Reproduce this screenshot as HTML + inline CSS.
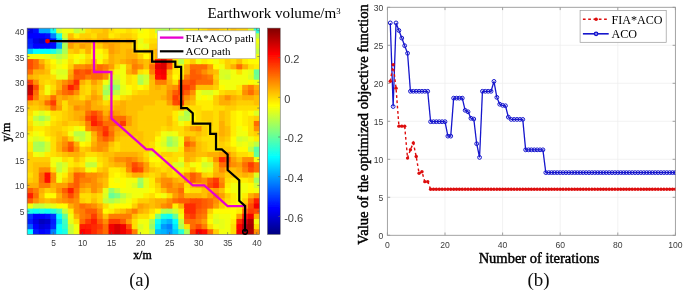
<!DOCTYPE html>
<html><head><meta charset="utf-8"><title>figure</title>
<style>html,body{margin:0;padding:0;background:#fff;}svg{display:block;}</style>
</head><body>
<svg width="685" height="292" viewBox="0 0 685 292">
<rect width="685" height="292" fill="#fff"/>
<defs>
<clipPath id="hc"><rect x="27.15" y="28.15" width="232.45" height="206.25"/></clipPath>
<clipPath id="rc"><rect x="387.40" y="7.30" width="288.00" height="228.00"/></clipPath>
<filter id="bl" x="0" y="0" width="1" height="1"><feGaussianBlur stdDeviation="0.45"/></filter>
<filter id="gb" x="0" y="0" width="685" height="292" filterUnits="userSpaceOnUse"><feGaussianBlur stdDeviation="0.5"/></filter>
</defs>
<g filter="url(#gb)">
<g clip-path="url(#hc)" filter="url(#bl)"><rect x="25.65" y="26.65" width="8.31" height="7.66" fill="#0000e6"/><rect x="32.96" y="26.65" width="6.81" height="7.66" fill="#000dff"/><rect x="38.77" y="26.65" width="6.81" height="7.66" fill="#00a6ff"/><rect x="44.58" y="26.65" width="6.81" height="7.66" fill="#00a6ff"/><rect x="50.39" y="26.65" width="6.81" height="7.66" fill="#0dfff2"/><rect x="56.21" y="26.65" width="6.81" height="7.66" fill="#d0ff2f"/><rect x="62.02" y="26.65" width="6.81" height="7.66" fill="#f2ff0d"/><rect x="67.83" y="26.65" width="6.81" height="7.66" fill="#f2ff0d"/><rect x="73.64" y="26.65" width="6.81" height="7.66" fill="#c4ff3b"/><rect x="79.45" y="26.65" width="6.81" height="7.66" fill="#dbff24"/><rect x="85.26" y="26.65" width="6.81" height="7.66" fill="#ffde00"/><rect x="91.07" y="26.65" width="6.81" height="7.66" fill="#ffcf00"/><rect x="96.88" y="26.65" width="6.81" height="7.66" fill="#ffcf00"/><rect x="102.70" y="26.65" width="6.81" height="7.66" fill="#ffbf00"/><rect x="108.51" y="26.65" width="6.81" height="7.66" fill="#ffde00"/><rect x="114.32" y="26.65" width="6.81" height="7.66" fill="#ffed00"/><rect x="120.13" y="26.65" width="6.81" height="7.66" fill="#ffed00"/><rect x="125.94" y="26.65" width="6.81" height="7.66" fill="#ffde00"/><rect x="131.75" y="26.65" width="6.81" height="7.66" fill="#ffed00"/><rect x="137.56" y="26.65" width="6.81" height="7.66" fill="#f2ff0d"/><rect x="143.38" y="26.65" width="6.81" height="7.66" fill="#fffc00"/><rect x="149.19" y="26.65" width="6.81" height="7.66" fill="#ffed00"/><rect x="155.00" y="26.65" width="6.81" height="7.66" fill="#c4ff3b"/><rect x="160.81" y="26.65" width="6.81" height="7.66" fill="#adff52"/><rect x="166.62" y="26.65" width="6.81" height="7.66" fill="#b9ff46"/><rect x="172.43" y="26.65" width="6.81" height="7.66" fill="#dbff24"/><rect x="178.24" y="26.65" width="6.81" height="7.66" fill="#b9ff46"/><rect x="184.05" y="26.65" width="6.81" height="7.66" fill="#fffc00"/><rect x="189.87" y="26.65" width="6.81" height="7.66" fill="#ffed00"/><rect x="195.68" y="26.65" width="6.81" height="7.66" fill="#ffed00"/><rect x="201.49" y="26.65" width="6.81" height="7.66" fill="#ffde00"/><rect x="207.30" y="26.65" width="6.81" height="7.66" fill="#ffbf00"/><rect x="213.11" y="26.65" width="6.81" height="7.66" fill="#ffbf00"/><rect x="218.92" y="26.65" width="6.81" height="7.66" fill="#ffcf00"/><rect x="224.73" y="26.65" width="6.81" height="7.66" fill="#ffde00"/><rect x="230.54" y="26.65" width="6.81" height="7.66" fill="#ffbf00"/><rect x="236.36" y="26.65" width="6.81" height="7.66" fill="#ffcf00"/><rect x="242.17" y="26.65" width="6.81" height="7.66" fill="#ffcf00"/><rect x="247.98" y="26.65" width="6.81" height="7.66" fill="#dbff24"/><rect x="253.79" y="26.65" width="6.81" height="7.66" fill="#26ffd9"/><rect x="25.65" y="33.31" width="8.31" height="6.16" fill="#0000ff"/><rect x="32.96" y="33.31" width="6.81" height="6.16" fill="#0000ff"/><rect x="38.77" y="33.31" width="6.81" height="6.16" fill="#0000ff"/><rect x="44.58" y="33.31" width="6.81" height="6.16" fill="#000dff"/><rect x="50.39" y="33.31" width="6.81" height="6.16" fill="#0080ff"/><rect x="56.21" y="33.31" width="6.81" height="6.16" fill="#1affe5"/><rect x="62.02" y="33.31" width="6.81" height="6.16" fill="#dbff24"/><rect x="67.83" y="33.31" width="6.81" height="6.16" fill="#ffbf00"/><rect x="73.64" y="33.31" width="6.81" height="6.16" fill="#ffed00"/><rect x="79.45" y="33.31" width="6.81" height="6.16" fill="#ffcf00"/><rect x="85.26" y="33.31" width="6.81" height="6.16" fill="#ffcf00"/><rect x="91.07" y="33.31" width="6.81" height="6.16" fill="#ffde00"/><rect x="96.88" y="33.31" width="6.81" height="6.16" fill="#ffbf00"/><rect x="102.70" y="33.31" width="6.81" height="6.16" fill="#ffbf00"/><rect x="108.51" y="33.31" width="6.81" height="6.16" fill="#ffed00"/><rect x="114.32" y="33.31" width="6.81" height="6.16" fill="#ffde00"/><rect x="120.13" y="33.31" width="6.81" height="6.16" fill="#ffcf00"/><rect x="125.94" y="33.31" width="6.81" height="6.16" fill="#ffcf00"/><rect x="131.75" y="33.31" width="6.81" height="6.16" fill="#ffde00"/><rect x="137.56" y="33.31" width="6.81" height="6.16" fill="#fffc00"/><rect x="143.38" y="33.31" width="6.81" height="6.16" fill="#fffc00"/><rect x="149.19" y="33.31" width="6.81" height="6.16" fill="#ffed00"/><rect x="155.00" y="33.31" width="6.81" height="6.16" fill="#fffc00"/><rect x="160.81" y="33.31" width="6.81" height="6.16" fill="#ffed00"/><rect x="166.62" y="33.31" width="6.81" height="6.16" fill="#ffed00"/><rect x="172.43" y="33.31" width="6.81" height="6.16" fill="#ffed00"/><rect x="178.24" y="33.31" width="6.81" height="6.16" fill="#ffed00"/><rect x="184.05" y="33.31" width="6.81" height="6.16" fill="#ffde00"/><rect x="189.87" y="33.31" width="6.81" height="6.16" fill="#ffde00"/><rect x="195.68" y="33.31" width="6.81" height="6.16" fill="#ffde00"/><rect x="201.49" y="33.31" width="6.81" height="6.16" fill="#ffde00"/><rect x="207.30" y="33.31" width="6.81" height="6.16" fill="#ffde00"/><rect x="213.11" y="33.31" width="6.81" height="6.16" fill="#ffde00"/><rect x="218.92" y="33.31" width="6.81" height="6.16" fill="#ffde00"/><rect x="224.73" y="33.31" width="6.81" height="6.16" fill="#ffde00"/><rect x="230.54" y="33.31" width="6.81" height="6.16" fill="#ffde00"/><rect x="236.36" y="33.31" width="6.81" height="6.16" fill="#ffde00"/><rect x="242.17" y="33.31" width="6.81" height="6.16" fill="#ffde00"/><rect x="247.98" y="33.31" width="6.81" height="6.16" fill="#ffde00"/><rect x="253.79" y="33.31" width="6.81" height="6.16" fill="#b9ff46"/><rect x="25.65" y="38.46" width="8.31" height="6.16" fill="#001aff"/><rect x="32.96" y="38.46" width="6.81" height="6.16" fill="#0000e6"/><rect x="38.77" y="38.46" width="6.81" height="6.16" fill="#0000cc"/><rect x="44.58" y="38.46" width="6.81" height="6.16" fill="#0000f2"/><rect x="50.39" y="38.46" width="6.81" height="6.16" fill="#000dff"/><rect x="56.21" y="38.46" width="6.81" height="6.16" fill="#00ccff"/><rect x="62.02" y="38.46" width="6.81" height="6.16" fill="#a2ff5d"/><rect x="67.83" y="38.46" width="6.81" height="6.16" fill="#ff9e00"/><rect x="73.64" y="38.46" width="6.81" height="6.16" fill="#ffaf00"/><rect x="79.45" y="38.46" width="6.81" height="6.16" fill="#ffbf00"/><rect x="85.26" y="38.46" width="6.81" height="6.16" fill="#ffaf00"/><rect x="91.07" y="38.46" width="6.81" height="6.16" fill="#ffbf00"/><rect x="96.88" y="38.46" width="6.81" height="6.16" fill="#ffaf00"/><rect x="102.70" y="38.46" width="6.81" height="6.16" fill="#ff9e00"/><rect x="108.51" y="38.46" width="6.81" height="6.16" fill="#ffaf00"/><rect x="114.32" y="38.46" width="6.81" height="6.16" fill="#ffaf00"/><rect x="120.13" y="38.46" width="6.81" height="6.16" fill="#ffbf00"/><rect x="125.94" y="38.46" width="6.81" height="6.16" fill="#ffaf00"/><rect x="131.75" y="38.46" width="6.81" height="6.16" fill="#ffcf00"/><rect x="137.56" y="38.46" width="6.81" height="6.16" fill="#e7ff18"/><rect x="143.38" y="38.46" width="6.81" height="6.16" fill="#ffed00"/><rect x="149.19" y="38.46" width="6.81" height="6.16" fill="#ffde00"/><rect x="155.00" y="38.46" width="6.81" height="6.16" fill="#ffde00"/><rect x="160.81" y="38.46" width="6.81" height="6.16" fill="#ffde00"/><rect x="166.62" y="38.46" width="6.81" height="6.16" fill="#ffde00"/><rect x="172.43" y="38.46" width="6.81" height="6.16" fill="#ffde00"/><rect x="178.24" y="38.46" width="6.81" height="6.16" fill="#ffde00"/><rect x="184.05" y="38.46" width="6.81" height="6.16" fill="#ffde00"/><rect x="189.87" y="38.46" width="6.81" height="6.16" fill="#ffde00"/><rect x="195.68" y="38.46" width="6.81" height="6.16" fill="#ffde00"/><rect x="201.49" y="38.46" width="6.81" height="6.16" fill="#ffde00"/><rect x="207.30" y="38.46" width="6.81" height="6.16" fill="#ffde00"/><rect x="213.11" y="38.46" width="6.81" height="6.16" fill="#ffde00"/><rect x="218.92" y="38.46" width="6.81" height="6.16" fill="#ffde00"/><rect x="224.73" y="38.46" width="6.81" height="6.16" fill="#ffde00"/><rect x="230.54" y="38.46" width="6.81" height="6.16" fill="#ffde00"/><rect x="236.36" y="38.46" width="6.81" height="6.16" fill="#ffde00"/><rect x="242.17" y="38.46" width="6.81" height="6.16" fill="#ffde00"/><rect x="247.98" y="38.46" width="6.81" height="6.16" fill="#ffde00"/><rect x="253.79" y="38.46" width="6.81" height="6.16" fill="#f2ff0d"/><rect x="25.65" y="43.62" width="8.31" height="6.16" fill="#0026ff"/><rect x="32.96" y="43.62" width="6.81" height="6.16" fill="#0000ff"/><rect x="38.77" y="43.62" width="6.81" height="6.16" fill="#0000ff"/><rect x="44.58" y="43.62" width="6.81" height="6.16" fill="#0000ff"/><rect x="50.39" y="43.62" width="6.81" height="6.16" fill="#000dff"/><rect x="56.21" y="43.62" width="6.81" height="6.16" fill="#00a6ff"/><rect x="62.02" y="43.62" width="6.81" height="6.16" fill="#adff52"/><rect x="67.83" y="43.62" width="6.81" height="6.16" fill="#ff9e00"/><rect x="73.64" y="43.62" width="6.81" height="6.16" fill="#ffbf00"/><rect x="79.45" y="43.62" width="6.81" height="6.16" fill="#ff9e00"/><rect x="85.26" y="43.62" width="6.81" height="6.16" fill="#ffaf00"/><rect x="91.07" y="43.62" width="6.81" height="6.16" fill="#ffde00"/><rect x="96.88" y="43.62" width="6.81" height="6.16" fill="#ffcf00"/><rect x="102.70" y="43.62" width="6.81" height="6.16" fill="#ffaf00"/><rect x="108.51" y="43.62" width="6.81" height="6.16" fill="#ff9e00"/><rect x="114.32" y="43.62" width="6.81" height="6.16" fill="#ffaf00"/><rect x="120.13" y="43.62" width="6.81" height="6.16" fill="#ffbf00"/><rect x="125.94" y="43.62" width="6.81" height="6.16" fill="#ffbf00"/><rect x="131.75" y="43.62" width="6.81" height="6.16" fill="#ffde00"/><rect x="137.56" y="43.62" width="6.81" height="6.16" fill="#f2ff0d"/><rect x="143.38" y="43.62" width="6.81" height="6.16" fill="#e7ff18"/><rect x="149.19" y="43.62" width="6.81" height="6.16" fill="#ffcf00"/><rect x="155.00" y="43.62" width="6.81" height="6.16" fill="#ffcf00"/><rect x="160.81" y="43.62" width="6.81" height="6.16" fill="#ffcf00"/><rect x="166.62" y="43.62" width="6.81" height="6.16" fill="#ffcf00"/><rect x="172.43" y="43.62" width="6.81" height="6.16" fill="#ffcf00"/><rect x="178.24" y="43.62" width="6.81" height="6.16" fill="#ffcf00"/><rect x="184.05" y="43.62" width="6.81" height="6.16" fill="#ffde00"/><rect x="189.87" y="43.62" width="6.81" height="6.16" fill="#ffde00"/><rect x="195.68" y="43.62" width="6.81" height="6.16" fill="#ffde00"/><rect x="201.49" y="43.62" width="6.81" height="6.16" fill="#ffde00"/><rect x="207.30" y="43.62" width="6.81" height="6.16" fill="#ffde00"/><rect x="213.11" y="43.62" width="6.81" height="6.16" fill="#ffde00"/><rect x="218.92" y="43.62" width="6.81" height="6.16" fill="#ffde00"/><rect x="224.73" y="43.62" width="6.81" height="6.16" fill="#ffde00"/><rect x="230.54" y="43.62" width="6.81" height="6.16" fill="#ffde00"/><rect x="236.36" y="43.62" width="6.81" height="6.16" fill="#ffde00"/><rect x="242.17" y="43.62" width="6.81" height="6.16" fill="#ffde00"/><rect x="247.98" y="43.62" width="6.81" height="6.16" fill="#ffde00"/><rect x="253.79" y="43.62" width="6.81" height="6.16" fill="#dbff24"/><rect x="25.65" y="48.77" width="8.31" height="6.16" fill="#00ccff"/><rect x="32.96" y="48.77" width="6.81" height="6.16" fill="#00ffff"/><rect x="38.77" y="48.77" width="6.81" height="6.16" fill="#00ffff"/><rect x="44.58" y="48.77" width="6.81" height="6.16" fill="#00ffff"/><rect x="50.39" y="48.77" width="6.81" height="6.16" fill="#1affe5"/><rect x="56.21" y="48.77" width="6.81" height="6.16" fill="#59ffa6"/><rect x="62.02" y="48.77" width="6.81" height="6.16" fill="#adff52"/><rect x="67.83" y="48.77" width="6.81" height="6.16" fill="#ffcf00"/><rect x="73.64" y="48.77" width="6.81" height="6.16" fill="#ffbf00"/><rect x="79.45" y="48.77" width="6.81" height="6.16" fill="#ffde00"/><rect x="85.26" y="48.77" width="6.81" height="6.16" fill="#ffaf00"/><rect x="91.07" y="48.77" width="6.81" height="6.16" fill="#fffc00"/><rect x="96.88" y="48.77" width="6.81" height="6.16" fill="#fffc00"/><rect x="102.70" y="48.77" width="6.81" height="6.16" fill="#ffde00"/><rect x="108.51" y="48.77" width="6.81" height="6.16" fill="#ff9e00"/><rect x="114.32" y="48.77" width="6.81" height="6.16" fill="#ffaf00"/><rect x="120.13" y="48.77" width="6.81" height="6.16" fill="#ffbf00"/><rect x="125.94" y="48.77" width="6.81" height="6.16" fill="#ffaf00"/><rect x="131.75" y="48.77" width="6.81" height="6.16" fill="#ffbf00"/><rect x="137.56" y="48.77" width="6.81" height="6.16" fill="#ffed00"/><rect x="143.38" y="48.77" width="6.81" height="6.16" fill="#ffde00"/><rect x="149.19" y="48.77" width="6.81" height="6.16" fill="#ffbf00"/><rect x="155.00" y="48.77" width="6.81" height="6.16" fill="#ffaf00"/><rect x="160.81" y="48.77" width="6.81" height="6.16" fill="#ffbf00"/><rect x="166.62" y="48.77" width="6.81" height="6.16" fill="#ffbf00"/><rect x="172.43" y="48.77" width="6.81" height="6.16" fill="#ffbf00"/><rect x="178.24" y="48.77" width="6.81" height="6.16" fill="#ffbf00"/><rect x="184.05" y="48.77" width="6.81" height="6.16" fill="#ffde00"/><rect x="189.87" y="48.77" width="6.81" height="6.16" fill="#ffde00"/><rect x="195.68" y="48.77" width="6.81" height="6.16" fill="#ffde00"/><rect x="201.49" y="48.77" width="6.81" height="6.16" fill="#ffde00"/><rect x="207.30" y="48.77" width="6.81" height="6.16" fill="#ffde00"/><rect x="213.11" y="48.77" width="6.81" height="6.16" fill="#ffde00"/><rect x="218.92" y="48.77" width="6.81" height="6.16" fill="#ffde00"/><rect x="224.73" y="48.77" width="6.81" height="6.16" fill="#ffde00"/><rect x="230.54" y="48.77" width="6.81" height="6.16" fill="#ffde00"/><rect x="236.36" y="48.77" width="6.81" height="6.16" fill="#ffde00"/><rect x="242.17" y="48.77" width="6.81" height="6.16" fill="#ffde00"/><rect x="247.98" y="48.77" width="6.81" height="6.16" fill="#ffde00"/><rect x="253.79" y="48.77" width="6.81" height="6.16" fill="#c4ff3b"/><rect x="25.65" y="53.93" width="8.31" height="6.16" fill="#f2ff0d"/><rect x="32.96" y="53.93" width="6.81" height="6.16" fill="#f2ff0d"/><rect x="38.77" y="53.93" width="6.81" height="6.16" fill="#f2ff0d"/><rect x="44.58" y="53.93" width="6.81" height="6.16" fill="#e7ff18"/><rect x="50.39" y="53.93" width="6.81" height="6.16" fill="#d0ff2f"/><rect x="56.21" y="53.93" width="6.81" height="6.16" fill="#b9ff46"/><rect x="62.02" y="53.93" width="6.81" height="6.16" fill="#d0ff2f"/><rect x="67.83" y="53.93" width="6.81" height="6.16" fill="#ffed00"/><rect x="73.64" y="53.93" width="6.81" height="6.16" fill="#fffc00"/><rect x="79.45" y="53.93" width="6.81" height="6.16" fill="#f2ff0d"/><rect x="85.26" y="53.93" width="6.81" height="6.16" fill="#ffde00"/><rect x="91.07" y="53.93" width="6.81" height="6.16" fill="#fffc00"/><rect x="96.88" y="53.93" width="6.81" height="6.16" fill="#f2ff0d"/><rect x="102.70" y="53.93" width="6.81" height="6.16" fill="#ffed00"/><rect x="108.51" y="53.93" width="6.81" height="6.16" fill="#ffaf00"/><rect x="114.32" y="53.93" width="6.81" height="6.16" fill="#ffbf00"/><rect x="120.13" y="53.93" width="6.81" height="6.16" fill="#ffbf00"/><rect x="125.94" y="53.93" width="6.81" height="6.16" fill="#ffaf00"/><rect x="131.75" y="53.93" width="6.81" height="6.16" fill="#ffaf00"/><rect x="137.56" y="53.93" width="6.81" height="6.16" fill="#ffcf00"/><rect x="143.38" y="53.93" width="6.81" height="6.16" fill="#fffc00"/><rect x="149.19" y="53.93" width="6.81" height="6.16" fill="#ffcf00"/><rect x="155.00" y="53.93" width="6.81" height="6.16" fill="#ffaf00"/><rect x="160.81" y="53.93" width="6.81" height="6.16" fill="#ffaf00"/><rect x="166.62" y="53.93" width="6.81" height="6.16" fill="#ff9e00"/><rect x="172.43" y="53.93" width="6.81" height="6.16" fill="#ff8e00"/><rect x="178.24" y="53.93" width="6.81" height="6.16" fill="#ffbf00"/><rect x="184.05" y="53.93" width="6.81" height="6.16" fill="#ffde00"/><rect x="189.87" y="53.93" width="6.81" height="6.16" fill="#ffde00"/><rect x="195.68" y="53.93" width="6.81" height="6.16" fill="#ffde00"/><rect x="201.49" y="53.93" width="6.81" height="6.16" fill="#ffde00"/><rect x="207.30" y="53.93" width="6.81" height="6.16" fill="#ffde00"/><rect x="213.11" y="53.93" width="6.81" height="6.16" fill="#ffde00"/><rect x="218.92" y="53.93" width="6.81" height="6.16" fill="#ffde00"/><rect x="224.73" y="53.93" width="6.81" height="6.16" fill="#ffde00"/><rect x="230.54" y="53.93" width="6.81" height="6.16" fill="#ffde00"/><rect x="236.36" y="53.93" width="6.81" height="6.16" fill="#ffde00"/><rect x="242.17" y="53.93" width="6.81" height="6.16" fill="#ffde00"/><rect x="247.98" y="53.93" width="6.81" height="6.16" fill="#ffde00"/><rect x="253.79" y="53.93" width="6.81" height="6.16" fill="#f2ff0d"/><rect x="25.65" y="59.09" width="8.31" height="6.16" fill="#ff4b00"/><rect x="32.96" y="59.09" width="6.81" height="6.16" fill="#ff6c00"/><rect x="38.77" y="59.09" width="6.81" height="6.16" fill="#ffaf00"/><rect x="44.58" y="59.09" width="6.81" height="6.16" fill="#ffde00"/><rect x="50.39" y="59.09" width="6.81" height="6.16" fill="#fffc00"/><rect x="56.21" y="59.09" width="6.81" height="6.16" fill="#dbff24"/><rect x="62.02" y="59.09" width="6.81" height="6.16" fill="#f2ff0d"/><rect x="67.83" y="59.09" width="6.81" height="6.16" fill="#ffde00"/><rect x="73.64" y="59.09" width="6.81" height="6.16" fill="#f2ff0d"/><rect x="79.45" y="59.09" width="6.81" height="6.16" fill="#ffed00"/><rect x="85.26" y="59.09" width="6.81" height="6.16" fill="#ffcf00"/><rect x="91.07" y="59.09" width="6.81" height="6.16" fill="#ffbf00"/><rect x="96.88" y="59.09" width="6.81" height="6.16" fill="#fffc00"/><rect x="102.70" y="59.09" width="6.81" height="6.16" fill="#ffcf00"/><rect x="108.51" y="59.09" width="6.81" height="6.16" fill="#ffaf00"/><rect x="114.32" y="59.09" width="6.81" height="6.16" fill="#ffbf00"/><rect x="120.13" y="59.09" width="6.81" height="6.16" fill="#ffaf00"/><rect x="125.94" y="59.09" width="6.81" height="6.16" fill="#ff9e00"/><rect x="131.75" y="59.09" width="6.81" height="6.16" fill="#ff8e00"/><rect x="137.56" y="59.09" width="6.81" height="6.16" fill="#ffaf00"/><rect x="143.38" y="59.09" width="6.81" height="6.16" fill="#ffbf00"/><rect x="149.19" y="59.09" width="6.81" height="6.16" fill="#ff9e00"/><rect x="155.00" y="59.09" width="6.81" height="6.16" fill="#ff0d00"/><rect x="160.81" y="59.09" width="6.81" height="6.16" fill="#d90000"/><rect x="166.62" y="59.09" width="6.81" height="6.16" fill="#ff3b00"/><rect x="172.43" y="59.09" width="6.81" height="6.16" fill="#ffed00"/><rect x="178.24" y="59.09" width="6.81" height="6.16" fill="#b9ff46"/><rect x="184.05" y="59.09" width="6.81" height="6.16" fill="#ffed00"/><rect x="189.87" y="59.09" width="6.81" height="6.16" fill="#ffcf00"/><rect x="195.68" y="59.09" width="6.81" height="6.16" fill="#f2ff0d"/><rect x="201.49" y="59.09" width="6.81" height="6.16" fill="#ffed00"/><rect x="207.30" y="59.09" width="6.81" height="6.16" fill="#fffc00"/><rect x="213.11" y="59.09" width="6.81" height="6.16" fill="#f2ff0d"/><rect x="218.92" y="59.09" width="6.81" height="6.16" fill="#ffed00"/><rect x="224.73" y="59.09" width="6.81" height="6.16" fill="#ffcf00"/><rect x="230.54" y="59.09" width="6.81" height="6.16" fill="#ffde00"/><rect x="236.36" y="59.09" width="6.81" height="6.16" fill="#ffbf00"/><rect x="242.17" y="59.09" width="6.81" height="6.16" fill="#ffed00"/><rect x="247.98" y="59.09" width="6.81" height="6.16" fill="#fffc00"/><rect x="253.79" y="59.09" width="6.81" height="6.16" fill="#fffc00"/><rect x="25.65" y="64.24" width="8.31" height="6.16" fill="#ff4b00"/><rect x="32.96" y="64.24" width="6.81" height="6.16" fill="#ff6c00"/><rect x="38.77" y="64.24" width="6.81" height="6.16" fill="#ff8e00"/><rect x="44.58" y="64.24" width="6.81" height="6.16" fill="#ffcf00"/><rect x="50.39" y="64.24" width="6.81" height="6.16" fill="#ffed00"/><rect x="56.21" y="64.24" width="6.81" height="6.16" fill="#f2ff0d"/><rect x="62.02" y="64.24" width="6.81" height="6.16" fill="#fffc00"/><rect x="67.83" y="64.24" width="6.81" height="6.16" fill="#ffcf00"/><rect x="73.64" y="64.24" width="6.81" height="6.16" fill="#ff8e00"/><rect x="79.45" y="64.24" width="6.81" height="6.16" fill="#ff8e00"/><rect x="85.26" y="64.24" width="6.81" height="6.16" fill="#ff7d00"/><rect x="91.07" y="64.24" width="6.81" height="6.16" fill="#ff8e00"/><rect x="96.88" y="64.24" width="6.81" height="6.16" fill="#ff6c00"/><rect x="102.70" y="64.24" width="6.81" height="6.16" fill="#ff7d00"/><rect x="108.51" y="64.24" width="6.81" height="6.16" fill="#ff9e00"/><rect x="114.32" y="64.24" width="6.81" height="6.16" fill="#ffde00"/><rect x="120.13" y="64.24" width="6.81" height="6.16" fill="#f2ff0d"/><rect x="125.94" y="64.24" width="6.81" height="6.16" fill="#ffbf00"/><rect x="131.75" y="64.24" width="6.81" height="6.16" fill="#ff7d00"/><rect x="137.56" y="64.24" width="6.81" height="6.16" fill="#ff8e00"/><rect x="143.38" y="64.24" width="6.81" height="6.16" fill="#ffbf00"/><rect x="149.19" y="64.24" width="6.81" height="6.16" fill="#ff6c00"/><rect x="155.00" y="64.24" width="6.81" height="6.16" fill="#e50000"/><rect x="160.81" y="64.24" width="6.81" height="6.16" fill="#d90000"/><rect x="166.62" y="64.24" width="6.81" height="6.16" fill="#ff4b00"/><rect x="172.43" y="64.24" width="6.81" height="6.16" fill="#ffde00"/><rect x="178.24" y="64.24" width="6.81" height="6.16" fill="#f2ff0d"/><rect x="184.05" y="64.24" width="6.81" height="6.16" fill="#ffaf00"/><rect x="189.87" y="64.24" width="6.81" height="6.16" fill="#ff6c00"/><rect x="195.68" y="64.24" width="6.81" height="6.16" fill="#ff6c00"/><rect x="201.49" y="64.24" width="6.81" height="6.16" fill="#ff6c00"/><rect x="207.30" y="64.24" width="6.81" height="6.16" fill="#ff9e00"/><rect x="213.11" y="64.24" width="6.81" height="6.16" fill="#fffc00"/><rect x="218.92" y="64.24" width="6.81" height="6.16" fill="#f2ff0d"/><rect x="224.73" y="64.24" width="6.81" height="6.16" fill="#ffcf00"/><rect x="230.54" y="64.24" width="6.81" height="6.16" fill="#ffaf00"/><rect x="236.36" y="64.24" width="6.81" height="6.16" fill="#ff6c00"/><rect x="242.17" y="64.24" width="6.81" height="6.16" fill="#ffaf00"/><rect x="247.98" y="64.24" width="6.81" height="6.16" fill="#ffde00"/><rect x="253.79" y="64.24" width="6.81" height="6.16" fill="#ffed00"/><rect x="25.65" y="69.40" width="8.31" height="6.16" fill="#ff6c00"/><rect x="32.96" y="69.40" width="6.81" height="6.16" fill="#ffaf00"/><rect x="38.77" y="69.40" width="6.81" height="6.16" fill="#ffaf00"/><rect x="44.58" y="69.40" width="6.81" height="6.16" fill="#ffbf00"/><rect x="50.39" y="69.40" width="6.81" height="6.16" fill="#f2ff0d"/><rect x="56.21" y="69.40" width="6.81" height="6.16" fill="#dbff24"/><rect x="62.02" y="69.40" width="6.81" height="6.16" fill="#dbff24"/><rect x="67.83" y="69.40" width="6.81" height="6.16" fill="#ffaf00"/><rect x="73.64" y="69.40" width="6.81" height="6.16" fill="#ff4b00"/><rect x="79.45" y="69.40" width="6.81" height="6.16" fill="#ff5c00"/><rect x="85.26" y="69.40" width="6.81" height="6.16" fill="#ff4b00"/><rect x="91.07" y="69.40" width="6.81" height="6.16" fill="#ff6c00"/><rect x="96.88" y="69.40" width="6.81" height="6.16" fill="#ff6c00"/><rect x="102.70" y="69.40" width="6.81" height="6.16" fill="#ff8e00"/><rect x="108.51" y="69.40" width="6.81" height="6.16" fill="#ffde00"/><rect x="114.32" y="69.40" width="6.81" height="6.16" fill="#f2ff0d"/><rect x="120.13" y="69.40" width="6.81" height="6.16" fill="#f2ff0d"/><rect x="125.94" y="69.40" width="6.81" height="6.16" fill="#ffaf00"/><rect x="131.75" y="69.40" width="6.81" height="6.16" fill="#ff8e00"/><rect x="137.56" y="69.40" width="6.81" height="6.16" fill="#ffde00"/><rect x="143.38" y="69.40" width="6.81" height="6.16" fill="#ffed00"/><rect x="149.19" y="69.40" width="6.81" height="6.16" fill="#ff7d00"/><rect x="155.00" y="69.40" width="6.81" height="6.16" fill="#ff0000"/><rect x="160.81" y="69.40" width="6.81" height="6.16" fill="#f20000"/><rect x="166.62" y="69.40" width="6.81" height="6.16" fill="#ffaf00"/><rect x="172.43" y="69.40" width="6.81" height="6.16" fill="#ffed00"/><rect x="178.24" y="69.40" width="6.81" height="6.16" fill="#ffed00"/><rect x="184.05" y="69.40" width="6.81" height="6.16" fill="#ffaf00"/><rect x="189.87" y="69.40" width="6.81" height="6.16" fill="#ff5c00"/><rect x="195.68" y="69.40" width="6.81" height="6.16" fill="#ff6c00"/><rect x="201.49" y="69.40" width="6.81" height="6.16" fill="#ff8e00"/><rect x="207.30" y="69.40" width="6.81" height="6.16" fill="#ffaf00"/><rect x="213.11" y="69.40" width="6.81" height="6.16" fill="#ffbf00"/><rect x="218.92" y="69.40" width="6.81" height="6.16" fill="#dbff24"/><rect x="224.73" y="69.40" width="6.81" height="6.16" fill="#dbff24"/><rect x="230.54" y="69.40" width="6.81" height="6.16" fill="#f2ff0d"/><rect x="236.36" y="69.40" width="6.81" height="6.16" fill="#ffde00"/><rect x="242.17" y="69.40" width="6.81" height="6.16" fill="#f2ff0d"/><rect x="247.98" y="69.40" width="6.81" height="6.16" fill="#e7ff18"/><rect x="253.79" y="69.40" width="6.81" height="6.16" fill="#66ff99"/><rect x="25.65" y="74.56" width="8.31" height="6.16" fill="#ffaf00"/><rect x="32.96" y="74.56" width="6.81" height="6.16" fill="#ffbf00"/><rect x="38.77" y="74.56" width="6.81" height="6.16" fill="#ffcf00"/><rect x="44.58" y="74.56" width="6.81" height="6.16" fill="#ffcf00"/><rect x="50.39" y="74.56" width="6.81" height="6.16" fill="#ffde00"/><rect x="56.21" y="74.56" width="6.81" height="6.16" fill="#e7ff18"/><rect x="62.02" y="74.56" width="6.81" height="6.16" fill="#e7ff18"/><rect x="67.83" y="74.56" width="6.81" height="6.16" fill="#ff9e00"/><rect x="73.64" y="74.56" width="6.81" height="6.16" fill="#ff5c00"/><rect x="79.45" y="74.56" width="6.81" height="6.16" fill="#ff5c00"/><rect x="85.26" y="74.56" width="6.81" height="6.16" fill="#ff7d00"/><rect x="91.07" y="74.56" width="6.81" height="6.16" fill="#ff6c00"/><rect x="96.88" y="74.56" width="6.81" height="6.16" fill="#ff6c00"/><rect x="102.70" y="74.56" width="6.81" height="6.16" fill="#ff8e00"/><rect x="108.51" y="74.56" width="6.81" height="6.16" fill="#dbff24"/><rect x="114.32" y="74.56" width="6.81" height="6.16" fill="#dbff24"/><rect x="120.13" y="74.56" width="6.81" height="6.16" fill="#f2ff0d"/><rect x="125.94" y="74.56" width="6.81" height="6.16" fill="#ffde00"/><rect x="131.75" y="74.56" width="6.81" height="6.16" fill="#ffed00"/><rect x="137.56" y="74.56" width="6.81" height="6.16" fill="#b9ff46"/><rect x="143.38" y="74.56" width="6.81" height="6.16" fill="#d0ff2f"/><rect x="149.19" y="74.56" width="6.81" height="6.16" fill="#ffaf00"/><rect x="155.00" y="74.56" width="6.81" height="6.16" fill="#ff0d00"/><rect x="160.81" y="74.56" width="6.81" height="6.16" fill="#ff0000"/><rect x="166.62" y="74.56" width="6.81" height="6.16" fill="#ffbf00"/><rect x="172.43" y="74.56" width="6.81" height="6.16" fill="#fffc00"/><rect x="178.24" y="74.56" width="6.81" height="6.16" fill="#ffde00"/><rect x="184.05" y="74.56" width="6.81" height="6.16" fill="#ff7d00"/><rect x="189.87" y="74.56" width="6.81" height="6.16" fill="#ff5c00"/><rect x="195.68" y="74.56" width="6.81" height="6.16" fill="#ff5c00"/><rect x="201.49" y="74.56" width="6.81" height="6.16" fill="#ff6c00"/><rect x="207.30" y="74.56" width="6.81" height="6.16" fill="#ff7d00"/><rect x="213.11" y="74.56" width="6.81" height="6.16" fill="#ffcf00"/><rect x="218.92" y="74.56" width="6.81" height="6.16" fill="#dbff24"/><rect x="224.73" y="74.56" width="6.81" height="6.16" fill="#d0ff2f"/><rect x="230.54" y="74.56" width="6.81" height="6.16" fill="#f2ff0d"/><rect x="236.36" y="74.56" width="6.81" height="6.16" fill="#f2ff0d"/><rect x="242.17" y="74.56" width="6.81" height="6.16" fill="#f2ff0d"/><rect x="247.98" y="74.56" width="6.81" height="6.16" fill="#dbff24"/><rect x="253.79" y="74.56" width="6.81" height="6.16" fill="#73ff8c"/><rect x="25.65" y="79.71" width="8.31" height="6.16" fill="#ff3b00"/><rect x="32.96" y="79.71" width="6.81" height="6.16" fill="#ff8e00"/><rect x="38.77" y="79.71" width="6.81" height="6.16" fill="#ffcf00"/><rect x="44.58" y="79.71" width="6.81" height="6.16" fill="#ffde00"/><rect x="50.39" y="79.71" width="6.81" height="6.16" fill="#ffcf00"/><rect x="56.21" y="79.71" width="6.81" height="6.16" fill="#ffaf00"/><rect x="62.02" y="79.71" width="6.81" height="6.16" fill="#ff8e00"/><rect x="67.83" y="79.71" width="6.81" height="6.16" fill="#ff6c00"/><rect x="73.64" y="79.71" width="6.81" height="6.16" fill="#ff2a00"/><rect x="79.45" y="79.71" width="6.81" height="6.16" fill="#ffaf00"/><rect x="85.26" y="79.71" width="6.81" height="6.16" fill="#ffcf00"/><rect x="91.07" y="79.71" width="6.81" height="6.16" fill="#ff9e00"/><rect x="96.88" y="79.71" width="6.81" height="6.16" fill="#ffbf00"/><rect x="102.70" y="79.71" width="6.81" height="6.16" fill="#f2ff0d"/><rect x="108.51" y="79.71" width="6.81" height="6.16" fill="#b9ff46"/><rect x="114.32" y="79.71" width="6.81" height="6.16" fill="#c4ff3b"/><rect x="120.13" y="79.71" width="6.81" height="6.16" fill="#f2ff0d"/><rect x="125.94" y="79.71" width="6.81" height="6.16" fill="#ffde00"/><rect x="131.75" y="79.71" width="6.81" height="6.16" fill="#ffed00"/><rect x="137.56" y="79.71" width="6.81" height="6.16" fill="#adff52"/><rect x="143.38" y="79.71" width="6.81" height="6.16" fill="#dbff24"/><rect x="149.19" y="79.71" width="6.81" height="6.16" fill="#ffbf00"/><rect x="155.00" y="79.71" width="6.81" height="6.16" fill="#ff7d00"/><rect x="160.81" y="79.71" width="6.81" height="6.16" fill="#ff7d00"/><rect x="166.62" y="79.71" width="6.81" height="6.16" fill="#ffaf00"/><rect x="172.43" y="79.71" width="6.81" height="6.16" fill="#ffde00"/><rect x="178.24" y="79.71" width="6.81" height="6.16" fill="#ff5c00"/><rect x="184.05" y="79.71" width="6.81" height="6.16" fill="#ff5c00"/><rect x="189.87" y="79.71" width="6.81" height="6.16" fill="#ff4b00"/><rect x="195.68" y="79.71" width="6.81" height="6.16" fill="#ff6c00"/><rect x="201.49" y="79.71" width="6.81" height="6.16" fill="#ff6c00"/><rect x="207.30" y="79.71" width="6.81" height="6.16" fill="#ff6c00"/><rect x="213.11" y="79.71" width="6.81" height="6.16" fill="#ffbf00"/><rect x="218.92" y="79.71" width="6.81" height="6.16" fill="#f2ff0d"/><rect x="224.73" y="79.71" width="6.81" height="6.16" fill="#f2ff0d"/><rect x="230.54" y="79.71" width="6.81" height="6.16" fill="#f2ff0d"/><rect x="236.36" y="79.71" width="6.81" height="6.16" fill="#f2ff0d"/><rect x="242.17" y="79.71" width="6.81" height="6.16" fill="#f2ff0d"/><rect x="247.98" y="79.71" width="6.81" height="6.16" fill="#fffc00"/><rect x="253.79" y="79.71" width="6.81" height="6.16" fill="#f2ff0d"/><rect x="25.65" y="84.87" width="8.31" height="6.16" fill="#bf0000"/><rect x="32.96" y="84.87" width="6.81" height="6.16" fill="#ff4b00"/><rect x="38.77" y="84.87" width="6.81" height="6.16" fill="#ffbf00"/><rect x="44.58" y="84.87" width="6.81" height="6.16" fill="#f2ff0d"/><rect x="50.39" y="84.87" width="6.81" height="6.16" fill="#ffde00"/><rect x="56.21" y="84.87" width="6.81" height="6.16" fill="#ffaf00"/><rect x="62.02" y="84.87" width="6.81" height="6.16" fill="#ff6c00"/><rect x="67.83" y="84.87" width="6.81" height="6.16" fill="#ff1a00"/><rect x="73.64" y="84.87" width="6.81" height="6.16" fill="#ff4b00"/><rect x="79.45" y="84.87" width="6.81" height="6.16" fill="#ffcf00"/><rect x="85.26" y="84.87" width="6.81" height="6.16" fill="#ffde00"/><rect x="91.07" y="84.87" width="6.81" height="6.16" fill="#ffbf00"/><rect x="96.88" y="84.87" width="6.81" height="6.16" fill="#ffcf00"/><rect x="102.70" y="84.87" width="6.81" height="6.16" fill="#b9ff46"/><rect x="108.51" y="84.87" width="6.81" height="6.16" fill="#80ff80"/><rect x="114.32" y="84.87" width="6.81" height="6.16" fill="#96ff69"/><rect x="120.13" y="84.87" width="6.81" height="6.16" fill="#e7ff18"/><rect x="125.94" y="84.87" width="6.81" height="6.16" fill="#fffc00"/><rect x="131.75" y="84.87" width="6.81" height="6.16" fill="#ffed00"/><rect x="137.56" y="84.87" width="6.81" height="6.16" fill="#fffc00"/><rect x="143.38" y="84.87" width="6.81" height="6.16" fill="#ffed00"/><rect x="149.19" y="84.87" width="6.81" height="6.16" fill="#ffbf00"/><rect x="155.00" y="84.87" width="6.81" height="6.16" fill="#ffaf00"/><rect x="160.81" y="84.87" width="6.81" height="6.16" fill="#ffbf00"/><rect x="166.62" y="84.87" width="6.81" height="6.16" fill="#ff9e00"/><rect x="172.43" y="84.87" width="6.81" height="6.16" fill="#ff8e00"/><rect x="178.24" y="84.87" width="6.81" height="6.16" fill="#ff3b00"/><rect x="184.05" y="84.87" width="6.81" height="6.16" fill="#ff3b00"/><rect x="189.87" y="84.87" width="6.81" height="6.16" fill="#ff5c00"/><rect x="195.68" y="84.87" width="6.81" height="6.16" fill="#ffbf00"/><rect x="201.49" y="84.87" width="6.81" height="6.16" fill="#ffbf00"/><rect x="207.30" y="84.87" width="6.81" height="6.16" fill="#ffbf00"/><rect x="213.11" y="84.87" width="6.81" height="6.16" fill="#ffcf00"/><rect x="218.92" y="84.87" width="6.81" height="6.16" fill="#fffc00"/><rect x="224.73" y="84.87" width="6.81" height="6.16" fill="#f2ff0d"/><rect x="230.54" y="84.87" width="6.81" height="6.16" fill="#f2ff0d"/><rect x="236.36" y="84.87" width="6.81" height="6.16" fill="#ffed00"/><rect x="242.17" y="84.87" width="6.81" height="6.16" fill="#ff9e00"/><rect x="247.98" y="84.87" width="6.81" height="6.16" fill="#ff7d00"/><rect x="253.79" y="84.87" width="6.81" height="6.16" fill="#ffaf00"/><rect x="25.65" y="90.03" width="8.31" height="6.16" fill="#cc0000"/><rect x="32.96" y="90.03" width="6.81" height="6.16" fill="#ff6c00"/><rect x="38.77" y="90.03" width="6.81" height="6.16" fill="#ffcf00"/><rect x="44.58" y="90.03" width="6.81" height="6.16" fill="#f2ff0d"/><rect x="50.39" y="90.03" width="6.81" height="6.16" fill="#ffcf00"/><rect x="56.21" y="90.03" width="6.81" height="6.16" fill="#ff8e00"/><rect x="62.02" y="90.03" width="6.81" height="6.16" fill="#ff6c00"/><rect x="67.83" y="90.03" width="6.81" height="6.16" fill="#ff5c00"/><rect x="73.64" y="90.03" width="6.81" height="6.16" fill="#ff8e00"/><rect x="79.45" y="90.03" width="6.81" height="6.16" fill="#ffcf00"/><rect x="85.26" y="90.03" width="6.81" height="6.16" fill="#ffde00"/><rect x="91.07" y="90.03" width="6.81" height="6.16" fill="#ffaf00"/><rect x="96.88" y="90.03" width="6.81" height="6.16" fill="#ffcf00"/><rect x="102.70" y="90.03" width="6.81" height="6.16" fill="#a2ff5d"/><rect x="108.51" y="90.03" width="6.81" height="6.16" fill="#adff52"/><rect x="114.32" y="90.03" width="6.81" height="6.16" fill="#c4ff3b"/><rect x="120.13" y="90.03" width="6.81" height="6.16" fill="#e7ff18"/><rect x="125.94" y="90.03" width="6.81" height="6.16" fill="#f2ff0d"/><rect x="131.75" y="90.03" width="6.81" height="6.16" fill="#ffde00"/><rect x="137.56" y="90.03" width="6.81" height="6.16" fill="#ffcf00"/><rect x="143.38" y="90.03" width="6.81" height="6.16" fill="#ffcf00"/><rect x="149.19" y="90.03" width="6.81" height="6.16" fill="#ffbf00"/><rect x="155.00" y="90.03" width="6.81" height="6.16" fill="#ffbf00"/><rect x="160.81" y="90.03" width="6.81" height="6.16" fill="#ffbf00"/><rect x="166.62" y="90.03" width="6.81" height="6.16" fill="#ff8e00"/><rect x="172.43" y="90.03" width="6.81" height="6.16" fill="#ff5c00"/><rect x="178.24" y="90.03" width="6.81" height="6.16" fill="#ff3b00"/><rect x="184.05" y="90.03" width="6.81" height="6.16" fill="#ff5c00"/><rect x="189.87" y="90.03" width="6.81" height="6.16" fill="#ff8e00"/><rect x="195.68" y="90.03" width="6.81" height="6.16" fill="#f2ff0d"/><rect x="201.49" y="90.03" width="6.81" height="6.16" fill="#dbff24"/><rect x="207.30" y="90.03" width="6.81" height="6.16" fill="#dbff24"/><rect x="213.11" y="90.03" width="6.81" height="6.16" fill="#f2ff0d"/><rect x="218.92" y="90.03" width="6.81" height="6.16" fill="#ffde00"/><rect x="224.73" y="90.03" width="6.81" height="6.16" fill="#ffcf00"/><rect x="230.54" y="90.03" width="6.81" height="6.16" fill="#ffcf00"/><rect x="236.36" y="90.03" width="6.81" height="6.16" fill="#ffde00"/><rect x="242.17" y="90.03" width="6.81" height="6.16" fill="#ff8e00"/><rect x="247.98" y="90.03" width="6.81" height="6.16" fill="#ff6c00"/><rect x="253.79" y="90.03" width="6.81" height="6.16" fill="#ff9e00"/><rect x="25.65" y="95.18" width="8.31" height="6.16" fill="#ff1a00"/><rect x="32.96" y="95.18" width="6.81" height="6.16" fill="#ff7d00"/><rect x="38.77" y="95.18" width="6.81" height="6.16" fill="#ffbf00"/><rect x="44.58" y="95.18" width="6.81" height="6.16" fill="#ffaf00"/><rect x="50.39" y="95.18" width="6.81" height="6.16" fill="#ff6c00"/><rect x="56.21" y="95.18" width="6.81" height="6.16" fill="#ffaf00"/><rect x="62.02" y="95.18" width="6.81" height="6.16" fill="#ff9e00"/><rect x="67.83" y="95.18" width="6.81" height="6.16" fill="#ffaf00"/><rect x="73.64" y="95.18" width="6.81" height="6.16" fill="#ffbf00"/><rect x="79.45" y="95.18" width="6.81" height="6.16" fill="#ffde00"/><rect x="85.26" y="95.18" width="6.81" height="6.16" fill="#ffbf00"/><rect x="91.07" y="95.18" width="6.81" height="6.16" fill="#ff9e00"/><rect x="96.88" y="95.18" width="6.81" height="6.16" fill="#ffaf00"/><rect x="102.70" y="95.18" width="6.81" height="6.16" fill="#d0ff2f"/><rect x="108.51" y="95.18" width="6.81" height="6.16" fill="#f2ff0d"/><rect x="114.32" y="95.18" width="6.81" height="6.16" fill="#f2ff0d"/><rect x="120.13" y="95.18" width="6.81" height="6.16" fill="#ffde00"/><rect x="125.94" y="95.18" width="6.81" height="6.16" fill="#ffcf00"/><rect x="131.75" y="95.18" width="6.81" height="6.16" fill="#ffbf00"/><rect x="137.56" y="95.18" width="6.81" height="6.16" fill="#ffbf00"/><rect x="143.38" y="95.18" width="6.81" height="6.16" fill="#ffbf00"/><rect x="149.19" y="95.18" width="6.81" height="6.16" fill="#ffbf00"/><rect x="155.00" y="95.18" width="6.81" height="6.16" fill="#ffbf00"/><rect x="160.81" y="95.18" width="6.81" height="6.16" fill="#ffaf00"/><rect x="166.62" y="95.18" width="6.81" height="6.16" fill="#ff8e00"/><rect x="172.43" y="95.18" width="6.81" height="6.16" fill="#ff3b00"/><rect x="178.24" y="95.18" width="6.81" height="6.16" fill="#ff5c00"/><rect x="184.05" y="95.18" width="6.81" height="6.16" fill="#ff8e00"/><rect x="189.87" y="95.18" width="6.81" height="6.16" fill="#ffaf00"/><rect x="195.68" y="95.18" width="6.81" height="6.16" fill="#f2ff0d"/><rect x="201.49" y="95.18" width="6.81" height="6.16" fill="#fffc00"/><rect x="207.30" y="95.18" width="6.81" height="6.16" fill="#f2ff0d"/><rect x="213.11" y="95.18" width="6.81" height="6.16" fill="#ffcf00"/><rect x="218.92" y="95.18" width="6.81" height="6.16" fill="#ffaf00"/><rect x="224.73" y="95.18" width="6.81" height="6.16" fill="#ff8e00"/><rect x="230.54" y="95.18" width="6.81" height="6.16" fill="#ffaf00"/><rect x="236.36" y="95.18" width="6.81" height="6.16" fill="#ffbf00"/><rect x="242.17" y="95.18" width="6.81" height="6.16" fill="#ffaf00"/><rect x="247.98" y="95.18" width="6.81" height="6.16" fill="#ffaf00"/><rect x="253.79" y="95.18" width="6.81" height="6.16" fill="#ffbf00"/><rect x="25.65" y="100.34" width="8.31" height="6.16" fill="#ffaf00"/><rect x="32.96" y="100.34" width="6.81" height="6.16" fill="#ffbf00"/><rect x="38.77" y="100.34" width="6.81" height="6.16" fill="#ffaf00"/><rect x="44.58" y="100.34" width="6.81" height="6.16" fill="#ff6c00"/><rect x="50.39" y="100.34" width="6.81" height="6.16" fill="#ff3b00"/><rect x="56.21" y="100.34" width="6.81" height="6.16" fill="#ffaf00"/><rect x="62.02" y="100.34" width="6.81" height="6.16" fill="#ffde00"/><rect x="67.83" y="100.34" width="6.81" height="6.16" fill="#ffaf00"/><rect x="73.64" y="100.34" width="6.81" height="6.16" fill="#ffaf00"/><rect x="79.45" y="100.34" width="6.81" height="6.16" fill="#ffaf00"/><rect x="85.26" y="100.34" width="6.81" height="6.16" fill="#ff8e00"/><rect x="91.07" y="100.34" width="6.81" height="6.16" fill="#ffaf00"/><rect x="96.88" y="100.34" width="6.81" height="6.16" fill="#ffbf00"/><rect x="102.70" y="100.34" width="6.81" height="6.16" fill="#ffde00"/><rect x="108.51" y="100.34" width="6.81" height="6.16" fill="#ffcf00"/><rect x="114.32" y="100.34" width="6.81" height="6.16" fill="#ffbf00"/><rect x="120.13" y="100.34" width="6.81" height="6.16" fill="#ffaf00"/><rect x="125.94" y="100.34" width="6.81" height="6.16" fill="#ffbf00"/><rect x="131.75" y="100.34" width="6.81" height="6.16" fill="#ffbf00"/><rect x="137.56" y="100.34" width="6.81" height="6.16" fill="#ffbf00"/><rect x="143.38" y="100.34" width="6.81" height="6.16" fill="#ffbf00"/><rect x="149.19" y="100.34" width="6.81" height="6.16" fill="#ffbf00"/><rect x="155.00" y="100.34" width="6.81" height="6.16" fill="#ffcf00"/><rect x="160.81" y="100.34" width="6.81" height="6.16" fill="#ffcf00"/><rect x="166.62" y="100.34" width="6.81" height="6.16" fill="#ff9e00"/><rect x="172.43" y="100.34" width="6.81" height="6.16" fill="#ff4b00"/><rect x="178.24" y="100.34" width="6.81" height="6.16" fill="#ff3b00"/><rect x="184.05" y="100.34" width="6.81" height="6.16" fill="#ffaf00"/><rect x="189.87" y="100.34" width="6.81" height="6.16" fill="#ffbf00"/><rect x="195.68" y="100.34" width="6.81" height="6.16" fill="#ffed00"/><rect x="201.49" y="100.34" width="6.81" height="6.16" fill="#ffed00"/><rect x="207.30" y="100.34" width="6.81" height="6.16" fill="#ffed00"/><rect x="213.11" y="100.34" width="6.81" height="6.16" fill="#ffcf00"/><rect x="218.92" y="100.34" width="6.81" height="6.16" fill="#ffaf00"/><rect x="224.73" y="100.34" width="6.81" height="6.16" fill="#ffaf00"/><rect x="230.54" y="100.34" width="6.81" height="6.16" fill="#ffbf00"/><rect x="236.36" y="100.34" width="6.81" height="6.16" fill="#ffcf00"/><rect x="242.17" y="100.34" width="6.81" height="6.16" fill="#ffcf00"/><rect x="247.98" y="100.34" width="6.81" height="6.16" fill="#ffcf00"/><rect x="253.79" y="100.34" width="6.81" height="6.16" fill="#ffbf00"/><rect x="25.65" y="105.49" width="8.31" height="6.16" fill="#ffcf00"/><rect x="32.96" y="105.49" width="6.81" height="6.16" fill="#ffcf00"/><rect x="38.77" y="105.49" width="6.81" height="6.16" fill="#ffbf00"/><rect x="44.58" y="105.49" width="6.81" height="6.16" fill="#ffaf00"/><rect x="50.39" y="105.49" width="6.81" height="6.16" fill="#ff6c00"/><rect x="56.21" y="105.49" width="6.81" height="6.16" fill="#ff9e00"/><rect x="62.02" y="105.49" width="6.81" height="6.16" fill="#ffde00"/><rect x="67.83" y="105.49" width="6.81" height="6.16" fill="#ffbf00"/><rect x="73.64" y="105.49" width="6.81" height="6.16" fill="#ff8e00"/><rect x="79.45" y="105.49" width="6.81" height="6.16" fill="#ff9e00"/><rect x="85.26" y="105.49" width="6.81" height="6.16" fill="#ff8e00"/><rect x="91.07" y="105.49" width="6.81" height="6.16" fill="#ffaf00"/><rect x="96.88" y="105.49" width="6.81" height="6.16" fill="#ffaf00"/><rect x="102.70" y="105.49" width="6.81" height="6.16" fill="#ffbf00"/><rect x="108.51" y="105.49" width="6.81" height="6.16" fill="#ffbf00"/><rect x="114.32" y="105.49" width="6.81" height="6.16" fill="#ffaf00"/><rect x="120.13" y="105.49" width="6.81" height="6.16" fill="#ffaf00"/><rect x="125.94" y="105.49" width="6.81" height="6.16" fill="#ffbf00"/><rect x="131.75" y="105.49" width="6.81" height="6.16" fill="#ffbf00"/><rect x="137.56" y="105.49" width="6.81" height="6.16" fill="#ffbf00"/><rect x="143.38" y="105.49" width="6.81" height="6.16" fill="#ffcf00"/><rect x="149.19" y="105.49" width="6.81" height="6.16" fill="#ffcf00"/><rect x="155.00" y="105.49" width="6.81" height="6.16" fill="#ffcf00"/><rect x="160.81" y="105.49" width="6.81" height="6.16" fill="#ffcf00"/><rect x="166.62" y="105.49" width="6.81" height="6.16" fill="#ffcf00"/><rect x="172.43" y="105.49" width="6.81" height="6.16" fill="#ffbf00"/><rect x="178.24" y="105.49" width="6.81" height="6.16" fill="#ffaf00"/><rect x="184.05" y="105.49" width="6.81" height="6.16" fill="#ffde00"/><rect x="189.87" y="105.49" width="6.81" height="6.16" fill="#ffde00"/><rect x="195.68" y="105.49" width="6.81" height="6.16" fill="#ffde00"/><rect x="201.49" y="105.49" width="6.81" height="6.16" fill="#ffed00"/><rect x="207.30" y="105.49" width="6.81" height="6.16" fill="#ffed00"/><rect x="213.11" y="105.49" width="6.81" height="6.16" fill="#ffde00"/><rect x="218.92" y="105.49" width="6.81" height="6.16" fill="#ffde00"/><rect x="224.73" y="105.49" width="6.81" height="6.16" fill="#ffcf00"/><rect x="230.54" y="105.49" width="6.81" height="6.16" fill="#ffcf00"/><rect x="236.36" y="105.49" width="6.81" height="6.16" fill="#ffde00"/><rect x="242.17" y="105.49" width="6.81" height="6.16" fill="#ffde00"/><rect x="247.98" y="105.49" width="6.81" height="6.16" fill="#ffde00"/><rect x="253.79" y="105.49" width="6.81" height="6.16" fill="#ffde00"/><rect x="25.65" y="110.65" width="8.31" height="6.16" fill="#ffde00"/><rect x="32.96" y="110.65" width="6.81" height="6.16" fill="#f2ff0d"/><rect x="38.77" y="110.65" width="6.81" height="6.16" fill="#dbff24"/><rect x="44.58" y="110.65" width="6.81" height="6.16" fill="#f2ff0d"/><rect x="50.39" y="110.65" width="6.81" height="6.16" fill="#ffde00"/><rect x="56.21" y="110.65" width="6.81" height="6.16" fill="#ffde00"/><rect x="62.02" y="110.65" width="6.81" height="6.16" fill="#ffcf00"/><rect x="67.83" y="110.65" width="6.81" height="6.16" fill="#ffbf00"/><rect x="73.64" y="110.65" width="6.81" height="6.16" fill="#ffaf00"/><rect x="79.45" y="110.65" width="6.81" height="6.16" fill="#ffaf00"/><rect x="85.26" y="110.65" width="6.81" height="6.16" fill="#ff6c00"/><rect x="91.07" y="110.65" width="6.81" height="6.16" fill="#ff4b00"/><rect x="96.88" y="110.65" width="6.81" height="6.16" fill="#ff6c00"/><rect x="102.70" y="110.65" width="6.81" height="6.16" fill="#ffaf00"/><rect x="108.51" y="110.65" width="6.81" height="6.16" fill="#ff8e00"/><rect x="114.32" y="110.65" width="6.81" height="6.16" fill="#ff9e00"/><rect x="120.13" y="110.65" width="6.81" height="6.16" fill="#ffaf00"/><rect x="125.94" y="110.65" width="6.81" height="6.16" fill="#ffbf00"/><rect x="131.75" y="110.65" width="6.81" height="6.16" fill="#ffbf00"/><rect x="137.56" y="110.65" width="6.81" height="6.16" fill="#ffcf00"/><rect x="143.38" y="110.65" width="6.81" height="6.16" fill="#ffcf00"/><rect x="149.19" y="110.65" width="6.81" height="6.16" fill="#ffcf00"/><rect x="155.00" y="110.65" width="6.81" height="6.16" fill="#ffcf00"/><rect x="160.81" y="110.65" width="6.81" height="6.16" fill="#ffcf00"/><rect x="166.62" y="110.65" width="6.81" height="6.16" fill="#ffcf00"/><rect x="172.43" y="110.65" width="6.81" height="6.16" fill="#ffed00"/><rect x="178.24" y="110.65" width="6.81" height="6.16" fill="#e7ff18"/><rect x="184.05" y="110.65" width="6.81" height="6.16" fill="#adff52"/><rect x="189.87" y="110.65" width="6.81" height="6.16" fill="#ffed00"/><rect x="195.68" y="110.65" width="6.81" height="6.16" fill="#ffde00"/><rect x="201.49" y="110.65" width="6.81" height="6.16" fill="#ffcf00"/><rect x="207.30" y="110.65" width="6.81" height="6.16" fill="#ffcf00"/><rect x="213.11" y="110.65" width="6.81" height="6.16" fill="#ffde00"/><rect x="218.92" y="110.65" width="6.81" height="6.16" fill="#ffbf00"/><rect x="224.73" y="110.65" width="6.81" height="6.16" fill="#ffcf00"/><rect x="230.54" y="110.65" width="6.81" height="6.16" fill="#ffed00"/><rect x="236.36" y="110.65" width="6.81" height="6.16" fill="#fffc00"/><rect x="242.17" y="110.65" width="6.81" height="6.16" fill="#ffed00"/><rect x="247.98" y="110.65" width="6.81" height="6.16" fill="#fffc00"/><rect x="253.79" y="110.65" width="6.81" height="6.16" fill="#dbff24"/><rect x="25.65" y="115.81" width="8.31" height="6.16" fill="#ffed00"/><rect x="32.96" y="115.81" width="6.81" height="6.16" fill="#c4ff3b"/><rect x="38.77" y="115.81" width="6.81" height="6.16" fill="#a2ff5d"/><rect x="44.58" y="115.81" width="6.81" height="6.16" fill="#c4ff3b"/><rect x="50.39" y="115.81" width="6.81" height="6.16" fill="#ffed00"/><rect x="56.21" y="115.81" width="6.81" height="6.16" fill="#ffde00"/><rect x="62.02" y="115.81" width="6.81" height="6.16" fill="#ffcf00"/><rect x="67.83" y="115.81" width="6.81" height="6.16" fill="#ffbf00"/><rect x="73.64" y="115.81" width="6.81" height="6.16" fill="#ffaf00"/><rect x="79.45" y="115.81" width="6.81" height="6.16" fill="#ff9e00"/><rect x="85.26" y="115.81" width="6.81" height="6.16" fill="#ff4b00"/><rect x="91.07" y="115.81" width="6.81" height="6.16" fill="#ff2a00"/><rect x="96.88" y="115.81" width="6.81" height="6.16" fill="#ff5c00"/><rect x="102.70" y="115.81" width="6.81" height="6.16" fill="#ff8e00"/><rect x="108.51" y="115.81" width="6.81" height="6.16" fill="#ff6c00"/><rect x="114.32" y="115.81" width="6.81" height="6.16" fill="#ff6c00"/><rect x="120.13" y="115.81" width="6.81" height="6.16" fill="#ff6c00"/><rect x="125.94" y="115.81" width="6.81" height="6.16" fill="#ff9e00"/><rect x="131.75" y="115.81" width="6.81" height="6.16" fill="#ffbf00"/><rect x="137.56" y="115.81" width="6.81" height="6.16" fill="#ffcf00"/><rect x="143.38" y="115.81" width="6.81" height="6.16" fill="#ffcf00"/><rect x="149.19" y="115.81" width="6.81" height="6.16" fill="#ffcf00"/><rect x="155.00" y="115.81" width="6.81" height="6.16" fill="#ffcf00"/><rect x="160.81" y="115.81" width="6.81" height="6.16" fill="#ffcf00"/><rect x="166.62" y="115.81" width="6.81" height="6.16" fill="#ffbf00"/><rect x="172.43" y="115.81" width="6.81" height="6.16" fill="#ffed00"/><rect x="178.24" y="115.81" width="6.81" height="6.16" fill="#c4ff3b"/><rect x="184.05" y="115.81" width="6.81" height="6.16" fill="#b9ff46"/><rect x="189.87" y="115.81" width="6.81" height="6.16" fill="#fffc00"/><rect x="195.68" y="115.81" width="6.81" height="6.16" fill="#ffde00"/><rect x="201.49" y="115.81" width="6.81" height="6.16" fill="#ffcf00"/><rect x="207.30" y="115.81" width="6.81" height="6.16" fill="#ffcf00"/><rect x="213.11" y="115.81" width="6.81" height="6.16" fill="#ffde00"/><rect x="218.92" y="115.81" width="6.81" height="6.16" fill="#ffbf00"/><rect x="224.73" y="115.81" width="6.81" height="6.16" fill="#ffcf00"/><rect x="230.54" y="115.81" width="6.81" height="6.16" fill="#ffed00"/><rect x="236.36" y="115.81" width="6.81" height="6.16" fill="#fffc00"/><rect x="242.17" y="115.81" width="6.81" height="6.16" fill="#ffed00"/><rect x="247.98" y="115.81" width="6.81" height="6.16" fill="#ffde00"/><rect x="253.79" y="115.81" width="6.81" height="6.16" fill="#ffcf00"/><rect x="25.65" y="120.96" width="8.31" height="6.16" fill="#ffde00"/><rect x="32.96" y="120.96" width="6.81" height="6.16" fill="#e7ff18"/><rect x="38.77" y="120.96" width="6.81" height="6.16" fill="#dbff24"/><rect x="44.58" y="120.96" width="6.81" height="6.16" fill="#f2ff0d"/><rect x="50.39" y="120.96" width="6.81" height="6.16" fill="#ffde00"/><rect x="56.21" y="120.96" width="6.81" height="6.16" fill="#ffcf00"/><rect x="62.02" y="120.96" width="6.81" height="6.16" fill="#ffbf00"/><rect x="67.83" y="120.96" width="6.81" height="6.16" fill="#ffcf00"/><rect x="73.64" y="120.96" width="6.81" height="6.16" fill="#ffcf00"/><rect x="79.45" y="120.96" width="6.81" height="6.16" fill="#ffbf00"/><rect x="85.26" y="120.96" width="6.81" height="6.16" fill="#ff7d00"/><rect x="91.07" y="120.96" width="6.81" height="6.16" fill="#ff1a00"/><rect x="96.88" y="120.96" width="6.81" height="6.16" fill="#ff3b00"/><rect x="102.70" y="120.96" width="6.81" height="6.16" fill="#ff6c00"/><rect x="108.51" y="120.96" width="6.81" height="6.16" fill="#ff6c00"/><rect x="114.32" y="120.96" width="6.81" height="6.16" fill="#ff6c00"/><rect x="120.13" y="120.96" width="6.81" height="6.16" fill="#ff3b00"/><rect x="125.94" y="120.96" width="6.81" height="6.16" fill="#ff9e00"/><rect x="131.75" y="120.96" width="6.81" height="6.16" fill="#ffbf00"/><rect x="137.56" y="120.96" width="6.81" height="6.16" fill="#ffcf00"/><rect x="143.38" y="120.96" width="6.81" height="6.16" fill="#ffcf00"/><rect x="149.19" y="120.96" width="6.81" height="6.16" fill="#ffcf00"/><rect x="155.00" y="120.96" width="6.81" height="6.16" fill="#ffcf00"/><rect x="160.81" y="120.96" width="6.81" height="6.16" fill="#ffcf00"/><rect x="166.62" y="120.96" width="6.81" height="6.16" fill="#ffbf00"/><rect x="172.43" y="120.96" width="6.81" height="6.16" fill="#ffde00"/><rect x="178.24" y="120.96" width="6.81" height="6.16" fill="#f2ff0d"/><rect x="184.05" y="120.96" width="6.81" height="6.16" fill="#ffed00"/><rect x="189.87" y="120.96" width="6.81" height="6.16" fill="#ffde00"/><rect x="195.68" y="120.96" width="6.81" height="6.16" fill="#ffde00"/><rect x="201.49" y="120.96" width="6.81" height="6.16" fill="#ffde00"/><rect x="207.30" y="120.96" width="6.81" height="6.16" fill="#ffcf00"/><rect x="213.11" y="120.96" width="6.81" height="6.16" fill="#ffde00"/><rect x="218.92" y="120.96" width="6.81" height="6.16" fill="#ffaf00"/><rect x="224.73" y="120.96" width="6.81" height="6.16" fill="#ffcf00"/><rect x="230.54" y="120.96" width="6.81" height="6.16" fill="#ffed00"/><rect x="236.36" y="120.96" width="6.81" height="6.16" fill="#fffc00"/><rect x="242.17" y="120.96" width="6.81" height="6.16" fill="#ffed00"/><rect x="247.98" y="120.96" width="6.81" height="6.16" fill="#ffde00"/><rect x="253.79" y="120.96" width="6.81" height="6.16" fill="#ff6c00"/><rect x="25.65" y="126.12" width="8.31" height="6.16" fill="#ffcf00"/><rect x="32.96" y="126.12" width="6.81" height="6.16" fill="#ffed00"/><rect x="38.77" y="126.12" width="6.81" height="6.16" fill="#ffed00"/><rect x="44.58" y="126.12" width="6.81" height="6.16" fill="#ffde00"/><rect x="50.39" y="126.12" width="6.81" height="6.16" fill="#ffcf00"/><rect x="56.21" y="126.12" width="6.81" height="6.16" fill="#ffcf00"/><rect x="62.02" y="126.12" width="6.81" height="6.16" fill="#ffde00"/><rect x="67.83" y="126.12" width="6.81" height="6.16" fill="#ffed00"/><rect x="73.64" y="126.12" width="6.81" height="6.16" fill="#f2ff0d"/><rect x="79.45" y="126.12" width="6.81" height="6.16" fill="#fffc00"/><rect x="85.26" y="126.12" width="6.81" height="6.16" fill="#ff8e00"/><rect x="91.07" y="126.12" width="6.81" height="6.16" fill="#ff6c00"/><rect x="96.88" y="126.12" width="6.81" height="6.16" fill="#ff5c00"/><rect x="102.70" y="126.12" width="6.81" height="6.16" fill="#ff3b00"/><rect x="108.51" y="126.12" width="6.81" height="6.16" fill="#ff7d00"/><rect x="114.32" y="126.12" width="6.81" height="6.16" fill="#ff9e00"/><rect x="120.13" y="126.12" width="6.81" height="6.16" fill="#ffaf00"/><rect x="125.94" y="126.12" width="6.81" height="6.16" fill="#ffbf00"/><rect x="131.75" y="126.12" width="6.81" height="6.16" fill="#ffbf00"/><rect x="137.56" y="126.12" width="6.81" height="6.16" fill="#ffcf00"/><rect x="143.38" y="126.12" width="6.81" height="6.16" fill="#ffcf00"/><rect x="149.19" y="126.12" width="6.81" height="6.16" fill="#ffcf00"/><rect x="155.00" y="126.12" width="6.81" height="6.16" fill="#ffcf00"/><rect x="160.81" y="126.12" width="6.81" height="6.16" fill="#ffde00"/><rect x="166.62" y="126.12" width="6.81" height="6.16" fill="#ffcf00"/><rect x="172.43" y="126.12" width="6.81" height="6.16" fill="#ffde00"/><rect x="178.24" y="126.12" width="6.81" height="6.16" fill="#ffde00"/><rect x="184.05" y="126.12" width="6.81" height="6.16" fill="#ffbf00"/><rect x="189.87" y="126.12" width="6.81" height="6.16" fill="#ff9e00"/><rect x="195.68" y="126.12" width="6.81" height="6.16" fill="#ff8e00"/><rect x="201.49" y="126.12" width="6.81" height="6.16" fill="#ffcf00"/><rect x="207.30" y="126.12" width="6.81" height="6.16" fill="#ffde00"/><rect x="213.11" y="126.12" width="6.81" height="6.16" fill="#ffde00"/><rect x="218.92" y="126.12" width="6.81" height="6.16" fill="#ffaf00"/><rect x="224.73" y="126.12" width="6.81" height="6.16" fill="#ffbf00"/><rect x="230.54" y="126.12" width="6.81" height="6.16" fill="#ffed00"/><rect x="236.36" y="126.12" width="6.81" height="6.16" fill="#f2ff0d"/><rect x="242.17" y="126.12" width="6.81" height="6.16" fill="#fffc00"/><rect x="247.98" y="126.12" width="6.81" height="6.16" fill="#ffde00"/><rect x="253.79" y="126.12" width="6.81" height="6.16" fill="#ff8e00"/><rect x="25.65" y="131.28" width="8.31" height="6.16" fill="#ffed00"/><rect x="32.96" y="131.28" width="6.81" height="6.16" fill="#f2ff0d"/><rect x="38.77" y="131.28" width="6.81" height="6.16" fill="#fffc00"/><rect x="44.58" y="131.28" width="6.81" height="6.16" fill="#ffde00"/><rect x="50.39" y="131.28" width="6.81" height="6.16" fill="#ffcf00"/><rect x="56.21" y="131.28" width="6.81" height="6.16" fill="#ffbf00"/><rect x="62.02" y="131.28" width="6.81" height="6.16" fill="#ffcf00"/><rect x="67.83" y="131.28" width="6.81" height="6.16" fill="#f2ff0d"/><rect x="73.64" y="131.28" width="6.81" height="6.16" fill="#b9ff46"/><rect x="79.45" y="131.28" width="6.81" height="6.16" fill="#b9ff46"/><rect x="85.26" y="131.28" width="6.81" height="6.16" fill="#e7ff18"/><rect x="91.07" y="131.28" width="6.81" height="6.16" fill="#ffaf00"/><rect x="96.88" y="131.28" width="6.81" height="6.16" fill="#ff6c00"/><rect x="102.70" y="131.28" width="6.81" height="6.16" fill="#ff2a00"/><rect x="108.51" y="131.28" width="6.81" height="6.16" fill="#ff6c00"/><rect x="114.32" y="131.28" width="6.81" height="6.16" fill="#ffaf00"/><rect x="120.13" y="131.28" width="6.81" height="6.16" fill="#ffbf00"/><rect x="125.94" y="131.28" width="6.81" height="6.16" fill="#ffbf00"/><rect x="131.75" y="131.28" width="6.81" height="6.16" fill="#ffbf00"/><rect x="137.56" y="131.28" width="6.81" height="6.16" fill="#ffbf00"/><rect x="143.38" y="131.28" width="6.81" height="6.16" fill="#ffcf00"/><rect x="149.19" y="131.28" width="6.81" height="6.16" fill="#ffcf00"/><rect x="155.00" y="131.28" width="6.81" height="6.16" fill="#ffde00"/><rect x="160.81" y="131.28" width="6.81" height="6.16" fill="#f2ff0d"/><rect x="166.62" y="131.28" width="6.81" height="6.16" fill="#e7ff18"/><rect x="172.43" y="131.28" width="6.81" height="6.16" fill="#f2ff0d"/><rect x="178.24" y="131.28" width="6.81" height="6.16" fill="#ffde00"/><rect x="184.05" y="131.28" width="6.81" height="6.16" fill="#ffcf00"/><rect x="189.87" y="131.28" width="6.81" height="6.16" fill="#ffcf00"/><rect x="195.68" y="131.28" width="6.81" height="6.16" fill="#ffbf00"/><rect x="201.49" y="131.28" width="6.81" height="6.16" fill="#ffcf00"/><rect x="207.30" y="131.28" width="6.81" height="6.16" fill="#ffde00"/><rect x="213.11" y="131.28" width="6.81" height="6.16" fill="#ffcf00"/><rect x="218.92" y="131.28" width="6.81" height="6.16" fill="#ffaf00"/><rect x="224.73" y="131.28" width="6.81" height="6.16" fill="#ffbf00"/><rect x="230.54" y="131.28" width="6.81" height="6.16" fill="#ffed00"/><rect x="236.36" y="131.28" width="6.81" height="6.16" fill="#f2ff0d"/><rect x="242.17" y="131.28" width="6.81" height="6.16" fill="#f2ff0d"/><rect x="247.98" y="131.28" width="6.81" height="6.16" fill="#ffde00"/><rect x="253.79" y="131.28" width="6.81" height="6.16" fill="#ffcf00"/><rect x="25.65" y="136.43" width="8.31" height="6.16" fill="#f2ff0d"/><rect x="32.96" y="136.43" width="6.81" height="6.16" fill="#dbff24"/><rect x="38.77" y="136.43" width="6.81" height="6.16" fill="#e7ff18"/><rect x="44.58" y="136.43" width="6.81" height="6.16" fill="#fffc00"/><rect x="50.39" y="136.43" width="6.81" height="6.16" fill="#ffde00"/><rect x="56.21" y="136.43" width="6.81" height="6.16" fill="#ffbf00"/><rect x="62.02" y="136.43" width="6.81" height="6.16" fill="#ff9e00"/><rect x="67.83" y="136.43" width="6.81" height="6.16" fill="#ffcf00"/><rect x="73.64" y="136.43" width="6.81" height="6.16" fill="#dbff24"/><rect x="79.45" y="136.43" width="6.81" height="6.16" fill="#c4ff3b"/><rect x="85.26" y="136.43" width="6.81" height="6.16" fill="#e7ff18"/><rect x="91.07" y="136.43" width="6.81" height="6.16" fill="#ffbf00"/><rect x="96.88" y="136.43" width="6.81" height="6.16" fill="#ff7d00"/><rect x="102.70" y="136.43" width="6.81" height="6.16" fill="#ff5c00"/><rect x="108.51" y="136.43" width="6.81" height="6.16" fill="#ff7d00"/><rect x="114.32" y="136.43" width="6.81" height="6.16" fill="#ffbf00"/><rect x="120.13" y="136.43" width="6.81" height="6.16" fill="#ffcf00"/><rect x="125.94" y="136.43" width="6.81" height="6.16" fill="#ffcf00"/><rect x="131.75" y="136.43" width="6.81" height="6.16" fill="#ffcf00"/><rect x="137.56" y="136.43" width="6.81" height="6.16" fill="#ffbf00"/><rect x="143.38" y="136.43" width="6.81" height="6.16" fill="#ffcf00"/><rect x="149.19" y="136.43" width="6.81" height="6.16" fill="#ffcf00"/><rect x="155.00" y="136.43" width="6.81" height="6.16" fill="#fffc00"/><rect x="160.81" y="136.43" width="6.81" height="6.16" fill="#e7ff18"/><rect x="166.62" y="136.43" width="6.81" height="6.16" fill="#a2ff5d"/><rect x="172.43" y="136.43" width="6.81" height="6.16" fill="#c4ff3b"/><rect x="178.24" y="136.43" width="6.81" height="6.16" fill="#f2ff0d"/><rect x="184.05" y="136.43" width="6.81" height="6.16" fill="#ff8e00"/><rect x="189.87" y="136.43" width="6.81" height="6.16" fill="#ffaf00"/><rect x="195.68" y="136.43" width="6.81" height="6.16" fill="#ffcf00"/><rect x="201.49" y="136.43" width="6.81" height="6.16" fill="#ffde00"/><rect x="207.30" y="136.43" width="6.81" height="6.16" fill="#ffde00"/><rect x="213.11" y="136.43" width="6.81" height="6.16" fill="#ffde00"/><rect x="218.92" y="136.43" width="6.81" height="6.16" fill="#ffbf00"/><rect x="224.73" y="136.43" width="6.81" height="6.16" fill="#ffcf00"/><rect x="230.54" y="136.43" width="6.81" height="6.16" fill="#fffc00"/><rect x="236.36" y="136.43" width="6.81" height="6.16" fill="#d0ff2f"/><rect x="242.17" y="136.43" width="6.81" height="6.16" fill="#dbff24"/><rect x="247.98" y="136.43" width="6.81" height="6.16" fill="#f2ff0d"/><rect x="253.79" y="136.43" width="6.81" height="6.16" fill="#ffed00"/><rect x="25.65" y="141.59" width="8.31" height="6.16" fill="#ffed00"/><rect x="32.96" y="141.59" width="6.81" height="6.16" fill="#adff52"/><rect x="38.77" y="141.59" width="6.81" height="6.16" fill="#a2ff5d"/><rect x="44.58" y="141.59" width="6.81" height="6.16" fill="#d0ff2f"/><rect x="50.39" y="141.59" width="6.81" height="6.16" fill="#ffde00"/><rect x="56.21" y="141.59" width="6.81" height="6.16" fill="#ffaf00"/><rect x="62.02" y="141.59" width="6.81" height="6.16" fill="#ff8e00"/><rect x="67.83" y="141.59" width="6.81" height="6.16" fill="#ff5c00"/><rect x="73.64" y="141.59" width="6.81" height="6.16" fill="#ffaf00"/><rect x="79.45" y="141.59" width="6.81" height="6.16" fill="#fffc00"/><rect x="85.26" y="141.59" width="6.81" height="6.16" fill="#ffed00"/><rect x="91.07" y="141.59" width="6.81" height="6.16" fill="#ffaf00"/><rect x="96.88" y="141.59" width="6.81" height="6.16" fill="#ff8e00"/><rect x="102.70" y="141.59" width="6.81" height="6.16" fill="#ff8e00"/><rect x="108.51" y="141.59" width="6.81" height="6.16" fill="#ffbf00"/><rect x="114.32" y="141.59" width="6.81" height="6.16" fill="#ffde00"/><rect x="120.13" y="141.59" width="6.81" height="6.16" fill="#ffcf00"/><rect x="125.94" y="141.59" width="6.81" height="6.16" fill="#ffcf00"/><rect x="131.75" y="141.59" width="6.81" height="6.16" fill="#ffcf00"/><rect x="137.56" y="141.59" width="6.81" height="6.16" fill="#ffcf00"/><rect x="143.38" y="141.59" width="6.81" height="6.16" fill="#ffcf00"/><rect x="149.19" y="141.59" width="6.81" height="6.16" fill="#ffde00"/><rect x="155.00" y="141.59" width="6.81" height="6.16" fill="#f2ff0d"/><rect x="160.81" y="141.59" width="6.81" height="6.16" fill="#dbff24"/><rect x="166.62" y="141.59" width="6.81" height="6.16" fill="#96ff69"/><rect x="172.43" y="141.59" width="6.81" height="6.16" fill="#b9ff46"/><rect x="178.24" y="141.59" width="6.81" height="6.16" fill="#f2ff0d"/><rect x="184.05" y="141.59" width="6.81" height="6.16" fill="#ff5c00"/><rect x="189.87" y="141.59" width="6.81" height="6.16" fill="#ff7d00"/><rect x="195.68" y="141.59" width="6.81" height="6.16" fill="#ffbf00"/><rect x="201.49" y="141.59" width="6.81" height="6.16" fill="#ffcf00"/><rect x="207.30" y="141.59" width="6.81" height="6.16" fill="#ffde00"/><rect x="213.11" y="141.59" width="6.81" height="6.16" fill="#ffde00"/><rect x="218.92" y="141.59" width="6.81" height="6.16" fill="#ffcf00"/><rect x="224.73" y="141.59" width="6.81" height="6.16" fill="#ffde00"/><rect x="230.54" y="141.59" width="6.81" height="6.16" fill="#fffc00"/><rect x="236.36" y="141.59" width="6.81" height="6.16" fill="#e7ff18"/><rect x="242.17" y="141.59" width="6.81" height="6.16" fill="#f2ff0d"/><rect x="247.98" y="141.59" width="6.81" height="6.16" fill="#dbff24"/><rect x="253.79" y="141.59" width="6.81" height="6.16" fill="#b9ff46"/><rect x="25.65" y="146.74" width="8.31" height="6.16" fill="#ffed00"/><rect x="32.96" y="146.74" width="6.81" height="6.16" fill="#adff52"/><rect x="38.77" y="146.74" width="6.81" height="6.16" fill="#adff52"/><rect x="44.58" y="146.74" width="6.81" height="6.16" fill="#d0ff2f"/><rect x="50.39" y="146.74" width="6.81" height="6.16" fill="#ffde00"/><rect x="56.21" y="146.74" width="6.81" height="6.16" fill="#ffaf00"/><rect x="62.02" y="146.74" width="6.81" height="6.16" fill="#ff7d00"/><rect x="67.83" y="146.74" width="6.81" height="6.16" fill="#ff4b00"/><rect x="73.64" y="146.74" width="6.81" height="6.16" fill="#ff8e00"/><rect x="79.45" y="146.74" width="6.81" height="6.16" fill="#ffcf00"/><rect x="85.26" y="146.74" width="6.81" height="6.16" fill="#ffbf00"/><rect x="91.07" y="146.74" width="6.81" height="6.16" fill="#ff9e00"/><rect x="96.88" y="146.74" width="6.81" height="6.16" fill="#ff8e00"/><rect x="102.70" y="146.74" width="6.81" height="6.16" fill="#ff9e00"/><rect x="108.51" y="146.74" width="6.81" height="6.16" fill="#ffcf00"/><rect x="114.32" y="146.74" width="6.81" height="6.16" fill="#ffde00"/><rect x="120.13" y="146.74" width="6.81" height="6.16" fill="#ffcf00"/><rect x="125.94" y="146.74" width="6.81" height="6.16" fill="#ffcf00"/><rect x="131.75" y="146.74" width="6.81" height="6.16" fill="#ffcf00"/><rect x="137.56" y="146.74" width="6.81" height="6.16" fill="#ffcf00"/><rect x="143.38" y="146.74" width="6.81" height="6.16" fill="#ffcf00"/><rect x="149.19" y="146.74" width="6.81" height="6.16" fill="#ffde00"/><rect x="155.00" y="146.74" width="6.81" height="6.16" fill="#fffc00"/><rect x="160.81" y="146.74" width="6.81" height="6.16" fill="#f2ff0d"/><rect x="166.62" y="146.74" width="6.81" height="6.16" fill="#dbff24"/><rect x="172.43" y="146.74" width="6.81" height="6.16" fill="#dbff24"/><rect x="178.24" y="146.74" width="6.81" height="6.16" fill="#ffed00"/><rect x="184.05" y="146.74" width="6.81" height="6.16" fill="#ff8e00"/><rect x="189.87" y="146.74" width="6.81" height="6.16" fill="#ff9e00"/><rect x="195.68" y="146.74" width="6.81" height="6.16" fill="#ffbf00"/><rect x="201.49" y="146.74" width="6.81" height="6.16" fill="#ffcf00"/><rect x="207.30" y="146.74" width="6.81" height="6.16" fill="#ffde00"/><rect x="213.11" y="146.74" width="6.81" height="6.16" fill="#ffde00"/><rect x="218.92" y="146.74" width="6.81" height="6.16" fill="#ffcf00"/><rect x="224.73" y="146.74" width="6.81" height="6.16" fill="#ffcf00"/><rect x="230.54" y="146.74" width="6.81" height="6.16" fill="#ffde00"/><rect x="236.36" y="146.74" width="6.81" height="6.16" fill="#fffc00"/><rect x="242.17" y="146.74" width="6.81" height="6.16" fill="#fffc00"/><rect x="247.98" y="146.74" width="6.81" height="6.16" fill="#b9ff46"/><rect x="253.79" y="146.74" width="6.81" height="6.16" fill="#59ffa6"/><rect x="25.65" y="151.90" width="8.31" height="6.16" fill="#ffcf00"/><rect x="32.96" y="151.90" width="6.81" height="6.16" fill="#f2ff0d"/><rect x="38.77" y="151.90" width="6.81" height="6.16" fill="#e7ff18"/><rect x="44.58" y="151.90" width="6.81" height="6.16" fill="#ffed00"/><rect x="50.39" y="151.90" width="6.81" height="6.16" fill="#ffde00"/><rect x="56.21" y="151.90" width="6.81" height="6.16" fill="#ffcf00"/><rect x="62.02" y="151.90" width="6.81" height="6.16" fill="#ffbf00"/><rect x="67.83" y="151.90" width="6.81" height="6.16" fill="#ffaf00"/><rect x="73.64" y="151.90" width="6.81" height="6.16" fill="#ffaf00"/><rect x="79.45" y="151.90" width="6.81" height="6.16" fill="#ffbf00"/><rect x="85.26" y="151.90" width="6.81" height="6.16" fill="#ffde00"/><rect x="91.07" y="151.90" width="6.81" height="6.16" fill="#ffde00"/><rect x="96.88" y="151.90" width="6.81" height="6.16" fill="#ffcf00"/><rect x="102.70" y="151.90" width="6.81" height="6.16" fill="#ffbf00"/><rect x="108.51" y="151.90" width="6.81" height="6.16" fill="#ffbf00"/><rect x="114.32" y="151.90" width="6.81" height="6.16" fill="#ffaf00"/><rect x="120.13" y="151.90" width="6.81" height="6.16" fill="#ffaf00"/><rect x="125.94" y="151.90" width="6.81" height="6.16" fill="#ffaf00"/><rect x="131.75" y="151.90" width="6.81" height="6.16" fill="#ffaf00"/><rect x="137.56" y="151.90" width="6.81" height="6.16" fill="#ffbf00"/><rect x="143.38" y="151.90" width="6.81" height="6.16" fill="#ffde00"/><rect x="149.19" y="151.90" width="6.81" height="6.16" fill="#dbff24"/><rect x="155.00" y="151.90" width="6.81" height="6.16" fill="#ffed00"/><rect x="160.81" y="151.90" width="6.81" height="6.16" fill="#ffcf00"/><rect x="166.62" y="151.90" width="6.81" height="6.16" fill="#ffcf00"/><rect x="172.43" y="151.90" width="6.81" height="6.16" fill="#ffde00"/><rect x="178.24" y="151.90" width="6.81" height="6.16" fill="#ffde00"/><rect x="184.05" y="151.90" width="6.81" height="6.16" fill="#ffaf00"/><rect x="189.87" y="151.90" width="6.81" height="6.16" fill="#ffaf00"/><rect x="195.68" y="151.90" width="6.81" height="6.16" fill="#ffbf00"/><rect x="201.49" y="151.90" width="6.81" height="6.16" fill="#ffbf00"/><rect x="207.30" y="151.90" width="6.81" height="6.16" fill="#ffaf00"/><rect x="213.11" y="151.90" width="6.81" height="6.16" fill="#ffaf00"/><rect x="218.92" y="151.90" width="6.81" height="6.16" fill="#ff9e00"/><rect x="224.73" y="151.90" width="6.81" height="6.16" fill="#ff8e00"/><rect x="230.54" y="151.90" width="6.81" height="6.16" fill="#ffbf00"/><rect x="236.36" y="151.90" width="6.81" height="6.16" fill="#ffde00"/><rect x="242.17" y="151.90" width="6.81" height="6.16" fill="#ffde00"/><rect x="247.98" y="151.90" width="6.81" height="6.16" fill="#ffed00"/><rect x="253.79" y="151.90" width="6.81" height="6.16" fill="#66ff99"/><rect x="25.65" y="157.06" width="8.31" height="6.16" fill="#ffcf00"/><rect x="32.96" y="157.06" width="6.81" height="6.16" fill="#ffcf00"/><rect x="38.77" y="157.06" width="6.81" height="6.16" fill="#ffcf00"/><rect x="44.58" y="157.06" width="6.81" height="6.16" fill="#ffcf00"/><rect x="50.39" y="157.06" width="6.81" height="6.16" fill="#f2ff0d"/><rect x="56.21" y="157.06" width="6.81" height="6.16" fill="#f2ff0d"/><rect x="62.02" y="157.06" width="6.81" height="6.16" fill="#ffde00"/><rect x="67.83" y="157.06" width="6.81" height="6.16" fill="#ffed00"/><rect x="73.64" y="157.06" width="6.81" height="6.16" fill="#ffbf00"/><rect x="79.45" y="157.06" width="6.81" height="6.16" fill="#ffde00"/><rect x="85.26" y="157.06" width="6.81" height="6.16" fill="#f2ff0d"/><rect x="91.07" y="157.06" width="6.81" height="6.16" fill="#f2ff0d"/><rect x="96.88" y="157.06" width="6.81" height="6.16" fill="#ffde00"/><rect x="102.70" y="157.06" width="6.81" height="6.16" fill="#ffcf00"/><rect x="108.51" y="157.06" width="6.81" height="6.16" fill="#ffaf00"/><rect x="114.32" y="157.06" width="6.81" height="6.16" fill="#ff8e00"/><rect x="120.13" y="157.06" width="6.81" height="6.16" fill="#ff8e00"/><rect x="125.94" y="157.06" width="6.81" height="6.16" fill="#ff7d00"/><rect x="131.75" y="157.06" width="6.81" height="6.16" fill="#ff8e00"/><rect x="137.56" y="157.06" width="6.81" height="6.16" fill="#ffaf00"/><rect x="143.38" y="157.06" width="6.81" height="6.16" fill="#ffcf00"/><rect x="149.19" y="157.06" width="6.81" height="6.16" fill="#fffc00"/><rect x="155.00" y="157.06" width="6.81" height="6.16" fill="#fffc00"/><rect x="160.81" y="157.06" width="6.81" height="6.16" fill="#ffed00"/><rect x="166.62" y="157.06" width="6.81" height="6.16" fill="#ffde00"/><rect x="172.43" y="157.06" width="6.81" height="6.16" fill="#ffde00"/><rect x="178.24" y="157.06" width="6.81" height="6.16" fill="#f2ff0d"/><rect x="184.05" y="157.06" width="6.81" height="6.16" fill="#ffaf00"/><rect x="189.87" y="157.06" width="6.81" height="6.16" fill="#ffbf00"/><rect x="195.68" y="157.06" width="6.81" height="6.16" fill="#ffde00"/><rect x="201.49" y="157.06" width="6.81" height="6.16" fill="#f2ff0d"/><rect x="207.30" y="157.06" width="6.81" height="6.16" fill="#ffde00"/><rect x="213.11" y="157.06" width="6.81" height="6.16" fill="#ff8e00"/><rect x="218.92" y="157.06" width="6.81" height="6.16" fill="#ff2a00"/><rect x="224.73" y="157.06" width="6.81" height="6.16" fill="#ff4b00"/><rect x="230.54" y="157.06" width="6.81" height="6.16" fill="#ff9e00"/><rect x="236.36" y="157.06" width="6.81" height="6.16" fill="#ffbf00"/><rect x="242.17" y="157.06" width="6.81" height="6.16" fill="#ff8e00"/><rect x="247.98" y="157.06" width="6.81" height="6.16" fill="#ff8e00"/><rect x="253.79" y="157.06" width="6.81" height="6.16" fill="#f2ff0d"/><rect x="25.65" y="162.21" width="8.31" height="6.16" fill="#ffcf00"/><rect x="32.96" y="162.21" width="6.81" height="6.16" fill="#ffbf00"/><rect x="38.77" y="162.21" width="6.81" height="6.16" fill="#ffbf00"/><rect x="44.58" y="162.21" width="6.81" height="6.16" fill="#ffbf00"/><rect x="50.39" y="162.21" width="6.81" height="6.16" fill="#f2ff0d"/><rect x="56.21" y="162.21" width="6.81" height="6.16" fill="#c4ff3b"/><rect x="62.02" y="162.21" width="6.81" height="6.16" fill="#dbff24"/><rect x="67.83" y="162.21" width="6.81" height="6.16" fill="#ffed00"/><rect x="73.64" y="162.21" width="6.81" height="6.16" fill="#ffde00"/><rect x="79.45" y="162.21" width="6.81" height="6.16" fill="#ffed00"/><rect x="85.26" y="162.21" width="6.81" height="6.16" fill="#c4ff3b"/><rect x="91.07" y="162.21" width="6.81" height="6.16" fill="#c4ff3b"/><rect x="96.88" y="162.21" width="6.81" height="6.16" fill="#ffed00"/><rect x="102.70" y="162.21" width="6.81" height="6.16" fill="#ffcf00"/><rect x="108.51" y="162.21" width="6.81" height="6.16" fill="#ffbf00"/><rect x="114.32" y="162.21" width="6.81" height="6.16" fill="#ffaf00"/><rect x="120.13" y="162.21" width="6.81" height="6.16" fill="#ffaf00"/><rect x="125.94" y="162.21" width="6.81" height="6.16" fill="#ff7d00"/><rect x="131.75" y="162.21" width="6.81" height="6.16" fill="#ff4b00"/><rect x="137.56" y="162.21" width="6.81" height="6.16" fill="#ff6c00"/><rect x="143.38" y="162.21" width="6.81" height="6.16" fill="#ff9e00"/><rect x="149.19" y="162.21" width="6.81" height="6.16" fill="#ffde00"/><rect x="155.00" y="162.21" width="6.81" height="6.16" fill="#ffed00"/><rect x="160.81" y="162.21" width="6.81" height="6.16" fill="#ffde00"/><rect x="166.62" y="162.21" width="6.81" height="6.16" fill="#ffde00"/><rect x="172.43" y="162.21" width="6.81" height="6.16" fill="#dbff24"/><rect x="178.24" y="162.21" width="6.81" height="6.16" fill="#d0ff2f"/><rect x="184.05" y="162.21" width="6.81" height="6.16" fill="#ffde00"/><rect x="189.87" y="162.21" width="6.81" height="6.16" fill="#f2ff0d"/><rect x="195.68" y="162.21" width="6.81" height="6.16" fill="#fffc00"/><rect x="201.49" y="162.21" width="6.81" height="6.16" fill="#d0ff2f"/><rect x="207.30" y="162.21" width="6.81" height="6.16" fill="#dbff24"/><rect x="213.11" y="162.21" width="6.81" height="6.16" fill="#ffbf00"/><rect x="218.92" y="162.21" width="6.81" height="6.16" fill="#ff6c00"/><rect x="224.73" y="162.21" width="6.81" height="6.16" fill="#ff6c00"/><rect x="230.54" y="162.21" width="6.81" height="6.16" fill="#ff8e00"/><rect x="236.36" y="162.21" width="6.81" height="6.16" fill="#ff9e00"/><rect x="242.17" y="162.21" width="6.81" height="6.16" fill="#ff6c00"/><rect x="247.98" y="162.21" width="6.81" height="6.16" fill="#ff3b00"/><rect x="253.79" y="162.21" width="6.81" height="6.16" fill="#ff6c00"/><rect x="25.65" y="167.37" width="8.31" height="6.16" fill="#ffcf00"/><rect x="32.96" y="167.37" width="6.81" height="6.16" fill="#ffbf00"/><rect x="38.77" y="167.37" width="6.81" height="6.16" fill="#ff8e00"/><rect x="44.58" y="167.37" width="6.81" height="6.16" fill="#ff8e00"/><rect x="50.39" y="167.37" width="6.81" height="6.16" fill="#ffde00"/><rect x="56.21" y="167.37" width="6.81" height="6.16" fill="#c4ff3b"/><rect x="62.02" y="167.37" width="6.81" height="6.16" fill="#e7ff18"/><rect x="67.83" y="167.37" width="6.81" height="6.16" fill="#ffcf00"/><rect x="73.64" y="167.37" width="6.81" height="6.16" fill="#ffaf00"/><rect x="79.45" y="167.37" width="6.81" height="6.16" fill="#ffbf00"/><rect x="85.26" y="167.37" width="6.81" height="6.16" fill="#f2ff0d"/><rect x="91.07" y="167.37" width="6.81" height="6.16" fill="#fffc00"/><rect x="96.88" y="167.37" width="6.81" height="6.16" fill="#ffcf00"/><rect x="102.70" y="167.37" width="6.81" height="6.16" fill="#ffbf00"/><rect x="108.51" y="167.37" width="6.81" height="6.16" fill="#ffed00"/><rect x="114.32" y="167.37" width="6.81" height="6.16" fill="#ffed00"/><rect x="120.13" y="167.37" width="6.81" height="6.16" fill="#ffde00"/><rect x="125.94" y="167.37" width="6.81" height="6.16" fill="#ff8e00"/><rect x="131.75" y="167.37" width="6.81" height="6.16" fill="#ff3b00"/><rect x="137.56" y="167.37" width="6.81" height="6.16" fill="#ff4b00"/><rect x="143.38" y="167.37" width="6.81" height="6.16" fill="#ff9e00"/><rect x="149.19" y="167.37" width="6.81" height="6.16" fill="#ffbf00"/><rect x="155.00" y="167.37" width="6.81" height="6.16" fill="#ffcf00"/><rect x="160.81" y="167.37" width="6.81" height="6.16" fill="#ffde00"/><rect x="166.62" y="167.37" width="6.81" height="6.16" fill="#ffcf00"/><rect x="172.43" y="167.37" width="6.81" height="6.16" fill="#ffed00"/><rect x="178.24" y="167.37" width="6.81" height="6.16" fill="#f2ff0d"/><rect x="184.05" y="167.37" width="6.81" height="6.16" fill="#ffed00"/><rect x="189.87" y="167.37" width="6.81" height="6.16" fill="#ffcf00"/><rect x="195.68" y="167.37" width="6.81" height="6.16" fill="#fffc00"/><rect x="201.49" y="167.37" width="6.81" height="6.16" fill="#e7ff18"/><rect x="207.30" y="167.37" width="6.81" height="6.16" fill="#f2ff0d"/><rect x="213.11" y="167.37" width="6.81" height="6.16" fill="#ffbf00"/><rect x="218.92" y="167.37" width="6.81" height="6.16" fill="#ff8e00"/><rect x="224.73" y="167.37" width="6.81" height="6.16" fill="#ffaf00"/><rect x="230.54" y="167.37" width="6.81" height="6.16" fill="#ffbf00"/><rect x="236.36" y="167.37" width="6.81" height="6.16" fill="#ffaf00"/><rect x="242.17" y="167.37" width="6.81" height="6.16" fill="#ff7d00"/><rect x="247.98" y="167.37" width="6.81" height="6.16" fill="#ff4b00"/><rect x="253.79" y="167.37" width="6.81" height="6.16" fill="#ff6c00"/><rect x="25.65" y="172.53" width="8.31" height="6.16" fill="#ffde00"/><rect x="32.96" y="172.53" width="6.81" height="6.16" fill="#ffbf00"/><rect x="38.77" y="172.53" width="6.81" height="6.16" fill="#ff6c00"/><rect x="44.58" y="172.53" width="6.81" height="6.16" fill="#ff0d00"/><rect x="50.39" y="172.53" width="6.81" height="6.16" fill="#ff8e00"/><rect x="56.21" y="172.53" width="6.81" height="6.16" fill="#f2ff0d"/><rect x="62.02" y="172.53" width="6.81" height="6.16" fill="#ffed00"/><rect x="67.83" y="172.53" width="6.81" height="6.16" fill="#ffaf00"/><rect x="73.64" y="172.53" width="6.81" height="6.16" fill="#ff5c00"/><rect x="79.45" y="172.53" width="6.81" height="6.16" fill="#ff6c00"/><rect x="85.26" y="172.53" width="6.81" height="6.16" fill="#ff8e00"/><rect x="91.07" y="172.53" width="6.81" height="6.16" fill="#ff8e00"/><rect x="96.88" y="172.53" width="6.81" height="6.16" fill="#ff9e00"/><rect x="102.70" y="172.53" width="6.81" height="6.16" fill="#ffaf00"/><rect x="108.51" y="172.53" width="6.81" height="6.16" fill="#ffed00"/><rect x="114.32" y="172.53" width="6.81" height="6.16" fill="#fffc00"/><rect x="120.13" y="172.53" width="6.81" height="6.16" fill="#ffed00"/><rect x="125.94" y="172.53" width="6.81" height="6.16" fill="#ffcf00"/><rect x="131.75" y="172.53" width="6.81" height="6.16" fill="#ffaf00"/><rect x="137.56" y="172.53" width="6.81" height="6.16" fill="#ffaf00"/><rect x="143.38" y="172.53" width="6.81" height="6.16" fill="#ffcf00"/><rect x="149.19" y="172.53" width="6.81" height="6.16" fill="#ffde00"/><rect x="155.00" y="172.53" width="6.81" height="6.16" fill="#ffcf00"/><rect x="160.81" y="172.53" width="6.81" height="6.16" fill="#ffaf00"/><rect x="166.62" y="172.53" width="6.81" height="6.16" fill="#ffcf00"/><rect x="172.43" y="172.53" width="6.81" height="6.16" fill="#ffde00"/><rect x="178.24" y="172.53" width="6.81" height="6.16" fill="#ffcf00"/><rect x="184.05" y="172.53" width="6.81" height="6.16" fill="#ff8e00"/><rect x="189.87" y="172.53" width="6.81" height="6.16" fill="#ff5c00"/><rect x="195.68" y="172.53" width="6.81" height="6.16" fill="#ff7d00"/><rect x="201.49" y="172.53" width="6.81" height="6.16" fill="#ffcf00"/><rect x="207.30" y="172.53" width="6.81" height="6.16" fill="#ffde00"/><rect x="213.11" y="172.53" width="6.81" height="6.16" fill="#ffaf00"/><rect x="218.92" y="172.53" width="6.81" height="6.16" fill="#ffaf00"/><rect x="224.73" y="172.53" width="6.81" height="6.16" fill="#ffcf00"/><rect x="230.54" y="172.53" width="6.81" height="6.16" fill="#ffbf00"/><rect x="236.36" y="172.53" width="6.81" height="6.16" fill="#ffbf00"/><rect x="242.17" y="172.53" width="6.81" height="6.16" fill="#ffaf00"/><rect x="247.98" y="172.53" width="6.81" height="6.16" fill="#ffbf00"/><rect x="253.79" y="172.53" width="6.81" height="6.16" fill="#dbff24"/><rect x="25.65" y="177.68" width="8.31" height="6.16" fill="#ffcf00"/><rect x="32.96" y="177.68" width="6.81" height="6.16" fill="#ffbf00"/><rect x="38.77" y="177.68" width="6.81" height="6.16" fill="#ff6c00"/><rect x="44.58" y="177.68" width="6.81" height="6.16" fill="#ff0d00"/><rect x="50.39" y="177.68" width="6.81" height="6.16" fill="#ff8e00"/><rect x="56.21" y="177.68" width="6.81" height="6.16" fill="#f2ff0d"/><rect x="62.02" y="177.68" width="6.81" height="6.16" fill="#ffcf00"/><rect x="67.83" y="177.68" width="6.81" height="6.16" fill="#ffaf00"/><rect x="73.64" y="177.68" width="6.81" height="6.16" fill="#ff5c00"/><rect x="79.45" y="177.68" width="6.81" height="6.16" fill="#ff7d00"/><rect x="85.26" y="177.68" width="6.81" height="6.16" fill="#ff7d00"/><rect x="91.07" y="177.68" width="6.81" height="6.16" fill="#ff8e00"/><rect x="96.88" y="177.68" width="6.81" height="6.16" fill="#ffaf00"/><rect x="102.70" y="177.68" width="6.81" height="6.16" fill="#ffbf00"/><rect x="108.51" y="177.68" width="6.81" height="6.16" fill="#fffc00"/><rect x="114.32" y="177.68" width="6.81" height="6.16" fill="#f2ff0d"/><rect x="120.13" y="177.68" width="6.81" height="6.16" fill="#fffc00"/><rect x="125.94" y="177.68" width="6.81" height="6.16" fill="#f2ff0d"/><rect x="131.75" y="177.68" width="6.81" height="6.16" fill="#f2ff0d"/><rect x="137.56" y="177.68" width="6.81" height="6.16" fill="#a2ff5d"/><rect x="143.38" y="177.68" width="6.81" height="6.16" fill="#e7ff18"/><rect x="149.19" y="177.68" width="6.81" height="6.16" fill="#ffed00"/><rect x="155.00" y="177.68" width="6.81" height="6.16" fill="#ffaf00"/><rect x="160.81" y="177.68" width="6.81" height="6.16" fill="#ff8e00"/><rect x="166.62" y="177.68" width="6.81" height="6.16" fill="#ff8e00"/><rect x="172.43" y="177.68" width="6.81" height="6.16" fill="#ffaf00"/><rect x="178.24" y="177.68" width="6.81" height="6.16" fill="#ffbf00"/><rect x="184.05" y="177.68" width="6.81" height="6.16" fill="#ff9e00"/><rect x="189.87" y="177.68" width="6.81" height="6.16" fill="#ff5c00"/><rect x="195.68" y="177.68" width="6.81" height="6.16" fill="#ff7d00"/><rect x="201.49" y="177.68" width="6.81" height="6.16" fill="#ff8e00"/><rect x="207.30" y="177.68" width="6.81" height="6.16" fill="#ff5c00"/><rect x="213.11" y="177.68" width="6.81" height="6.16" fill="#ff3b00"/><rect x="218.92" y="177.68" width="6.81" height="6.16" fill="#ff8e00"/><rect x="224.73" y="177.68" width="6.81" height="6.16" fill="#ffde00"/><rect x="230.54" y="177.68" width="6.81" height="6.16" fill="#ffed00"/><rect x="236.36" y="177.68" width="6.81" height="6.16" fill="#ffed00"/><rect x="242.17" y="177.68" width="6.81" height="6.16" fill="#ffed00"/><rect x="247.98" y="177.68" width="6.81" height="6.16" fill="#ffde00"/><rect x="253.79" y="177.68" width="6.81" height="6.16" fill="#a2ff5d"/><rect x="25.65" y="182.84" width="8.31" height="6.16" fill="#ffaf00"/><rect x="32.96" y="182.84" width="6.81" height="6.16" fill="#ffaf00"/><rect x="38.77" y="182.84" width="6.81" height="6.16" fill="#ff7d00"/><rect x="44.58" y="182.84" width="6.81" height="6.16" fill="#ff7d00"/><rect x="50.39" y="182.84" width="6.81" height="6.16" fill="#ffaf00"/><rect x="56.21" y="182.84" width="6.81" height="6.16" fill="#ff9e00"/><rect x="62.02" y="182.84" width="6.81" height="6.16" fill="#ff9e00"/><rect x="67.83" y="182.84" width="6.81" height="6.16" fill="#ff6c00"/><rect x="73.64" y="182.84" width="6.81" height="6.16" fill="#ff5c00"/><rect x="79.45" y="182.84" width="6.81" height="6.16" fill="#ff8e00"/><rect x="85.26" y="182.84" width="6.81" height="6.16" fill="#ff9e00"/><rect x="91.07" y="182.84" width="6.81" height="6.16" fill="#ff8e00"/><rect x="96.88" y="182.84" width="6.81" height="6.16" fill="#ff9e00"/><rect x="102.70" y="182.84" width="6.81" height="6.16" fill="#ffbf00"/><rect x="108.51" y="182.84" width="6.81" height="6.16" fill="#fffc00"/><rect x="114.32" y="182.84" width="6.81" height="6.16" fill="#fffc00"/><rect x="120.13" y="182.84" width="6.81" height="6.16" fill="#fffc00"/><rect x="125.94" y="182.84" width="6.81" height="6.16" fill="#f2ff0d"/><rect x="131.75" y="182.84" width="6.81" height="6.16" fill="#dbff24"/><rect x="137.56" y="182.84" width="6.81" height="6.16" fill="#96ff69"/><rect x="143.38" y="182.84" width="6.81" height="6.16" fill="#e7ff18"/><rect x="149.19" y="182.84" width="6.81" height="6.16" fill="#ffed00"/><rect x="155.00" y="182.84" width="6.81" height="6.16" fill="#ffcf00"/><rect x="160.81" y="182.84" width="6.81" height="6.16" fill="#ff8e00"/><rect x="166.62" y="182.84" width="6.81" height="6.16" fill="#ff7d00"/><rect x="172.43" y="182.84" width="6.81" height="6.16" fill="#ff9e00"/><rect x="178.24" y="182.84" width="6.81" height="6.16" fill="#ff8e00"/><rect x="184.05" y="182.84" width="6.81" height="6.16" fill="#ffde00"/><rect x="189.87" y="182.84" width="6.81" height="6.16" fill="#ffbf00"/><rect x="195.68" y="182.84" width="6.81" height="6.16" fill="#ffaf00"/><rect x="201.49" y="182.84" width="6.81" height="6.16" fill="#ff9e00"/><rect x="207.30" y="182.84" width="6.81" height="6.16" fill="#ff4b00"/><rect x="213.11" y="182.84" width="6.81" height="6.16" fill="#ff2a00"/><rect x="218.92" y="182.84" width="6.81" height="6.16" fill="#ff7d00"/><rect x="224.73" y="182.84" width="6.81" height="6.16" fill="#ffed00"/><rect x="230.54" y="182.84" width="6.81" height="6.16" fill="#f2ff0d"/><rect x="236.36" y="182.84" width="6.81" height="6.16" fill="#f2ff0d"/><rect x="242.17" y="182.84" width="6.81" height="6.16" fill="#f2ff0d"/><rect x="247.98" y="182.84" width="6.81" height="6.16" fill="#fffc00"/><rect x="253.79" y="182.84" width="6.81" height="6.16" fill="#d0ff2f"/><rect x="25.65" y="187.99" width="8.31" height="6.16" fill="#ff5c00"/><rect x="32.96" y="187.99" width="6.81" height="6.16" fill="#ff7d00"/><rect x="38.77" y="187.99" width="6.81" height="6.16" fill="#ffaf00"/><rect x="44.58" y="187.99" width="6.81" height="6.16" fill="#ffcf00"/><rect x="50.39" y="187.99" width="6.81" height="6.16" fill="#ffbf00"/><rect x="56.21" y="187.99" width="6.81" height="6.16" fill="#ff8e00"/><rect x="62.02" y="187.99" width="6.81" height="6.16" fill="#ff5c00"/><rect x="67.83" y="187.99" width="6.81" height="6.16" fill="#ff1a00"/><rect x="73.64" y="187.99" width="6.81" height="6.16" fill="#ff6c00"/><rect x="79.45" y="187.99" width="6.81" height="6.16" fill="#ffaf00"/><rect x="85.26" y="187.99" width="6.81" height="6.16" fill="#ffbf00"/><rect x="91.07" y="187.99" width="6.81" height="6.16" fill="#ff8e00"/><rect x="96.88" y="187.99" width="6.81" height="6.16" fill="#ffaf00"/><rect x="102.70" y="187.99" width="6.81" height="6.16" fill="#e7ff18"/><rect x="108.51" y="187.99" width="6.81" height="6.16" fill="#96ff69"/><rect x="114.32" y="187.99" width="6.81" height="6.16" fill="#c4ff3b"/><rect x="120.13" y="187.99" width="6.81" height="6.16" fill="#f2ff0d"/><rect x="125.94" y="187.99" width="6.81" height="6.16" fill="#f2ff0d"/><rect x="131.75" y="187.99" width="6.81" height="6.16" fill="#f2ff0d"/><rect x="137.56" y="187.99" width="6.81" height="6.16" fill="#f2ff0d"/><rect x="143.38" y="187.99" width="6.81" height="6.16" fill="#f2ff0d"/><rect x="149.19" y="187.99" width="6.81" height="6.16" fill="#fffc00"/><rect x="155.00" y="187.99" width="6.81" height="6.16" fill="#ffde00"/><rect x="160.81" y="187.99" width="6.81" height="6.16" fill="#ffbf00"/><rect x="166.62" y="187.99" width="6.81" height="6.16" fill="#ff8e00"/><rect x="172.43" y="187.99" width="6.81" height="6.16" fill="#ff8e00"/><rect x="178.24" y="187.99" width="6.81" height="6.16" fill="#ff6c00"/><rect x="184.05" y="187.99" width="6.81" height="6.16" fill="#ffed00"/><rect x="189.87" y="187.99" width="6.81" height="6.16" fill="#ffde00"/><rect x="195.68" y="187.99" width="6.81" height="6.16" fill="#ffde00"/><rect x="201.49" y="187.99" width="6.81" height="6.16" fill="#ffbf00"/><rect x="207.30" y="187.99" width="6.81" height="6.16" fill="#ffaf00"/><rect x="213.11" y="187.99" width="6.81" height="6.16" fill="#ff9e00"/><rect x="218.92" y="187.99" width="6.81" height="6.16" fill="#ffbf00"/><rect x="224.73" y="187.99" width="6.81" height="6.16" fill="#fffc00"/><rect x="230.54" y="187.99" width="6.81" height="6.16" fill="#f2ff0d"/><rect x="236.36" y="187.99" width="6.81" height="6.16" fill="#f2ff0d"/><rect x="242.17" y="187.99" width="6.81" height="6.16" fill="#f2ff0d"/><rect x="247.98" y="187.99" width="6.81" height="6.16" fill="#fffc00"/><rect x="253.79" y="187.99" width="6.81" height="6.16" fill="#f2ff0d"/><rect x="25.65" y="193.15" width="8.31" height="6.16" fill="#ff1a00"/><rect x="32.96" y="193.15" width="6.81" height="6.16" fill="#ff6c00"/><rect x="38.77" y="193.15" width="6.81" height="6.16" fill="#ffbf00"/><rect x="44.58" y="193.15" width="6.81" height="6.16" fill="#fffc00"/><rect x="50.39" y="193.15" width="6.81" height="6.16" fill="#fffc00"/><rect x="56.21" y="193.15" width="6.81" height="6.16" fill="#ffaf00"/><rect x="62.02" y="193.15" width="6.81" height="6.16" fill="#ff7d00"/><rect x="67.83" y="193.15" width="6.81" height="6.16" fill="#ff4b00"/><rect x="73.64" y="193.15" width="6.81" height="6.16" fill="#ff7d00"/><rect x="79.45" y="193.15" width="6.81" height="6.16" fill="#ffde00"/><rect x="85.26" y="193.15" width="6.81" height="6.16" fill="#ffde00"/><rect x="91.07" y="193.15" width="6.81" height="6.16" fill="#ffcf00"/><rect x="96.88" y="193.15" width="6.81" height="6.16" fill="#ffde00"/><rect x="102.70" y="193.15" width="6.81" height="6.16" fill="#dbff24"/><rect x="108.51" y="193.15" width="6.81" height="6.16" fill="#66ff99"/><rect x="114.32" y="193.15" width="6.81" height="6.16" fill="#80ff80"/><rect x="120.13" y="193.15" width="6.81" height="6.16" fill="#b9ff46"/><rect x="125.94" y="193.15" width="6.81" height="6.16" fill="#dbff24"/><rect x="131.75" y="193.15" width="6.81" height="6.16" fill="#f2ff0d"/><rect x="137.56" y="193.15" width="6.81" height="6.16" fill="#f2ff0d"/><rect x="143.38" y="193.15" width="6.81" height="6.16" fill="#ffed00"/><rect x="149.19" y="193.15" width="6.81" height="6.16" fill="#ffde00"/><rect x="155.00" y="193.15" width="6.81" height="6.16" fill="#fffc00"/><rect x="160.81" y="193.15" width="6.81" height="6.16" fill="#f2ff0d"/><rect x="166.62" y="193.15" width="6.81" height="6.16" fill="#ffde00"/><rect x="172.43" y="193.15" width="6.81" height="6.16" fill="#ff9e00"/><rect x="178.24" y="193.15" width="6.81" height="6.16" fill="#ff7d00"/><rect x="184.05" y="193.15" width="6.81" height="6.16" fill="#ffaf00"/><rect x="189.87" y="193.15" width="6.81" height="6.16" fill="#ffaf00"/><rect x="195.68" y="193.15" width="6.81" height="6.16" fill="#ffaf00"/><rect x="201.49" y="193.15" width="6.81" height="6.16" fill="#ffbf00"/><rect x="207.30" y="193.15" width="6.81" height="6.16" fill="#ff9e00"/><rect x="213.11" y="193.15" width="6.81" height="6.16" fill="#ff7d00"/><rect x="218.92" y="193.15" width="6.81" height="6.16" fill="#ff9e00"/><rect x="224.73" y="193.15" width="6.81" height="6.16" fill="#ffcf00"/><rect x="230.54" y="193.15" width="6.81" height="6.16" fill="#ffed00"/><rect x="236.36" y="193.15" width="6.81" height="6.16" fill="#f2ff0d"/><rect x="242.17" y="193.15" width="6.81" height="6.16" fill="#ffed00"/><rect x="247.98" y="193.15" width="6.81" height="6.16" fill="#ffaf00"/><rect x="253.79" y="193.15" width="6.81" height="6.16" fill="#ff8e00"/><rect x="25.65" y="198.31" width="8.31" height="6.16" fill="#ff5c00"/><rect x="32.96" y="198.31" width="6.81" height="6.16" fill="#ff8e00"/><rect x="38.77" y="198.31" width="6.81" height="6.16" fill="#ffaf00"/><rect x="44.58" y="198.31" width="6.81" height="6.16" fill="#ffbf00"/><rect x="50.39" y="198.31" width="6.81" height="6.16" fill="#ffaf00"/><rect x="56.21" y="198.31" width="6.81" height="6.16" fill="#ff9e00"/><rect x="62.02" y="198.31" width="6.81" height="6.16" fill="#ff8e00"/><rect x="67.83" y="198.31" width="6.81" height="6.16" fill="#ff7d00"/><rect x="73.64" y="198.31" width="6.81" height="6.16" fill="#ff8e00"/><rect x="79.45" y="198.31" width="6.81" height="6.16" fill="#ffcf00"/><rect x="85.26" y="198.31" width="6.81" height="6.16" fill="#ffde00"/><rect x="91.07" y="198.31" width="6.81" height="6.16" fill="#ffbf00"/><rect x="96.88" y="198.31" width="6.81" height="6.16" fill="#ffde00"/><rect x="102.70" y="198.31" width="6.81" height="6.16" fill="#c4ff3b"/><rect x="108.51" y="198.31" width="6.81" height="6.16" fill="#adff52"/><rect x="114.32" y="198.31" width="6.81" height="6.16" fill="#c4ff3b"/><rect x="120.13" y="198.31" width="6.81" height="6.16" fill="#dbff24"/><rect x="125.94" y="198.31" width="6.81" height="6.16" fill="#f2ff0d"/><rect x="131.75" y="198.31" width="6.81" height="6.16" fill="#ffed00"/><rect x="137.56" y="198.31" width="6.81" height="6.16" fill="#ffcf00"/><rect x="143.38" y="198.31" width="6.81" height="6.16" fill="#ffcf00"/><rect x="149.19" y="198.31" width="6.81" height="6.16" fill="#ffbf00"/><rect x="155.00" y="198.31" width="6.81" height="6.16" fill="#ffaf00"/><rect x="160.81" y="198.31" width="6.81" height="6.16" fill="#ffaf00"/><rect x="166.62" y="198.31" width="6.81" height="6.16" fill="#ff8e00"/><rect x="172.43" y="198.31" width="6.81" height="6.16" fill="#ff6c00"/><rect x="178.24" y="198.31" width="6.81" height="6.16" fill="#ff5c00"/><rect x="184.05" y="198.31" width="6.81" height="6.16" fill="#ff5c00"/><rect x="189.87" y="198.31" width="6.81" height="6.16" fill="#ff4b00"/><rect x="195.68" y="198.31" width="6.81" height="6.16" fill="#ff4b00"/><rect x="201.49" y="198.31" width="6.81" height="6.16" fill="#ff5c00"/><rect x="207.30" y="198.31" width="6.81" height="6.16" fill="#ff6c00"/><rect x="213.11" y="198.31" width="6.81" height="6.16" fill="#ff8e00"/><rect x="218.92" y="198.31" width="6.81" height="6.16" fill="#ffbf00"/><rect x="224.73" y="198.31" width="6.81" height="6.16" fill="#ffde00"/><rect x="230.54" y="198.31" width="6.81" height="6.16" fill="#ffed00"/><rect x="236.36" y="198.31" width="6.81" height="6.16" fill="#f2ff0d"/><rect x="242.17" y="198.31" width="6.81" height="6.16" fill="#ffcf00"/><rect x="247.98" y="198.31" width="6.81" height="6.16" fill="#ff6c00"/><rect x="253.79" y="198.31" width="6.81" height="6.16" fill="#ff1a00"/><rect x="25.65" y="203.46" width="8.31" height="6.16" fill="#f2ff0d"/><rect x="32.96" y="203.46" width="6.81" height="6.16" fill="#c4ff3b"/><rect x="38.77" y="203.46" width="6.81" height="6.16" fill="#c4ff3b"/><rect x="44.58" y="203.46" width="6.81" height="6.16" fill="#dbff24"/><rect x="50.39" y="203.46" width="6.81" height="6.16" fill="#e7ff18"/><rect x="56.21" y="203.46" width="6.81" height="6.16" fill="#fffc00"/><rect x="62.02" y="203.46" width="6.81" height="6.16" fill="#fffc00"/><rect x="67.83" y="203.46" width="6.81" height="6.16" fill="#ffaf00"/><rect x="73.64" y="203.46" width="6.81" height="6.16" fill="#ff8e00"/><rect x="79.45" y="203.46" width="6.81" height="6.16" fill="#ff6c00"/><rect x="85.26" y="203.46" width="6.81" height="6.16" fill="#ff7d00"/><rect x="91.07" y="203.46" width="6.81" height="6.16" fill="#ff8e00"/><rect x="96.88" y="203.46" width="6.81" height="6.16" fill="#ffaf00"/><rect x="102.70" y="203.46" width="6.81" height="6.16" fill="#ffde00"/><rect x="108.51" y="203.46" width="6.81" height="6.16" fill="#f2ff0d"/><rect x="114.32" y="203.46" width="6.81" height="6.16" fill="#fffc00"/><rect x="120.13" y="203.46" width="6.81" height="6.16" fill="#fffc00"/><rect x="125.94" y="203.46" width="6.81" height="6.16" fill="#fffc00"/><rect x="131.75" y="203.46" width="6.81" height="6.16" fill="#ffcf00"/><rect x="137.56" y="203.46" width="6.81" height="6.16" fill="#ff9e00"/><rect x="143.38" y="203.46" width="6.81" height="6.16" fill="#ffaf00"/><rect x="149.19" y="203.46" width="6.81" height="6.16" fill="#ffbf00"/><rect x="155.00" y="203.46" width="6.81" height="6.16" fill="#ffaf00"/><rect x="160.81" y="203.46" width="6.81" height="6.16" fill="#ff8e00"/><rect x="166.62" y="203.46" width="6.81" height="6.16" fill="#ff7d00"/><rect x="172.43" y="203.46" width="6.81" height="6.16" fill="#ffed00"/><rect x="178.24" y="203.46" width="6.81" height="6.16" fill="#ffaf00"/><rect x="184.05" y="203.46" width="6.81" height="6.16" fill="#ff2a00"/><rect x="189.87" y="203.46" width="6.81" height="6.16" fill="#ff2a00"/><rect x="195.68" y="203.46" width="6.81" height="6.16" fill="#ff4b00"/><rect x="201.49" y="203.46" width="6.81" height="6.16" fill="#ff5c00"/><rect x="207.30" y="203.46" width="6.81" height="6.16" fill="#ff6c00"/><rect x="213.11" y="203.46" width="6.81" height="6.16" fill="#ff9e00"/><rect x="218.92" y="203.46" width="6.81" height="6.16" fill="#ffcf00"/><rect x="224.73" y="203.46" width="6.81" height="6.16" fill="#ffed00"/><rect x="230.54" y="203.46" width="6.81" height="6.16" fill="#fffc00"/><rect x="236.36" y="203.46" width="6.81" height="6.16" fill="#fffc00"/><rect x="242.17" y="203.46" width="6.81" height="6.16" fill="#ffaf00"/><rect x="247.98" y="203.46" width="6.81" height="6.16" fill="#ff4b00"/><rect x="253.79" y="203.46" width="6.81" height="6.16" fill="#f20000"/><rect x="25.65" y="208.62" width="8.31" height="6.16" fill="#1affe5"/><rect x="32.96" y="208.62" width="6.81" height="6.16" fill="#0dfff2"/><rect x="38.77" y="208.62" width="6.81" height="6.16" fill="#1affe5"/><rect x="44.58" y="208.62" width="6.81" height="6.16" fill="#0dfff2"/><rect x="50.39" y="208.62" width="6.81" height="6.16" fill="#26ffd9"/><rect x="56.21" y="208.62" width="6.81" height="6.16" fill="#4dffb2"/><rect x="62.02" y="208.62" width="6.81" height="6.16" fill="#c4ff3b"/><rect x="67.83" y="208.62" width="6.81" height="6.16" fill="#ffed00"/><rect x="73.64" y="208.62" width="6.81" height="6.16" fill="#ff8e00"/><rect x="79.45" y="208.62" width="6.81" height="6.16" fill="#ff7d00"/><rect x="85.26" y="208.62" width="6.81" height="6.16" fill="#ff5c00"/><rect x="91.07" y="208.62" width="6.81" height="6.16" fill="#ff5c00"/><rect x="96.88" y="208.62" width="6.81" height="6.16" fill="#ff8e00"/><rect x="102.70" y="208.62" width="6.81" height="6.16" fill="#fffc00"/><rect x="108.51" y="208.62" width="6.81" height="6.16" fill="#ffed00"/><rect x="114.32" y="208.62" width="6.81" height="6.16" fill="#ffcf00"/><rect x="120.13" y="208.62" width="6.81" height="6.16" fill="#ffbf00"/><rect x="125.94" y="208.62" width="6.81" height="6.16" fill="#ff9e00"/><rect x="131.75" y="208.62" width="6.81" height="6.16" fill="#ff7d00"/><rect x="137.56" y="208.62" width="6.81" height="6.16" fill="#ffaf00"/><rect x="143.38" y="208.62" width="6.81" height="6.16" fill="#ffbf00"/><rect x="149.19" y="208.62" width="6.81" height="6.16" fill="#ffde00"/><rect x="155.00" y="208.62" width="6.81" height="6.16" fill="#fffc00"/><rect x="160.81" y="208.62" width="6.81" height="6.16" fill="#b9ff46"/><rect x="166.62" y="208.62" width="6.81" height="6.16" fill="#adff52"/><rect x="172.43" y="208.62" width="6.81" height="6.16" fill="#d0ff2f"/><rect x="178.24" y="208.62" width="6.81" height="6.16" fill="#ffed00"/><rect x="184.05" y="208.62" width="6.81" height="6.16" fill="#ff2a00"/><rect x="189.87" y="208.62" width="6.81" height="6.16" fill="#ff2a00"/><rect x="195.68" y="208.62" width="6.81" height="6.16" fill="#ff5c00"/><rect x="201.49" y="208.62" width="6.81" height="6.16" fill="#ff6c00"/><rect x="207.30" y="208.62" width="6.81" height="6.16" fill="#ffcf00"/><rect x="213.11" y="208.62" width="6.81" height="6.16" fill="#fffc00"/><rect x="218.92" y="208.62" width="6.81" height="6.16" fill="#fffc00"/><rect x="224.73" y="208.62" width="6.81" height="6.16" fill="#fffc00"/><rect x="230.54" y="208.62" width="6.81" height="6.16" fill="#fffc00"/><rect x="236.36" y="208.62" width="6.81" height="6.16" fill="#ffed00"/><rect x="242.17" y="208.62" width="6.81" height="6.16" fill="#ff6c00"/><rect x="247.98" y="208.62" width="6.81" height="6.16" fill="#ff3b00"/><rect x="253.79" y="208.62" width="6.81" height="6.16" fill="#ff4b00"/><rect x="25.65" y="213.78" width="8.31" height="6.16" fill="#0033ff"/><rect x="32.96" y="213.78" width="6.81" height="6.16" fill="#0000ff"/><rect x="38.77" y="213.78" width="6.81" height="6.16" fill="#0000ff"/><rect x="44.58" y="213.78" width="6.81" height="6.16" fill="#000dff"/><rect x="50.39" y="213.78" width="6.81" height="6.16" fill="#0033ff"/><rect x="56.21" y="213.78" width="6.81" height="6.16" fill="#00ffff"/><rect x="62.02" y="213.78" width="6.81" height="6.16" fill="#66ff99"/><rect x="67.83" y="213.78" width="6.81" height="6.16" fill="#f2ff0d"/><rect x="73.64" y="213.78" width="6.81" height="6.16" fill="#ffaf00"/><rect x="79.45" y="213.78" width="6.81" height="6.16" fill="#ff7d00"/><rect x="85.26" y="213.78" width="6.81" height="6.16" fill="#ff6c00"/><rect x="91.07" y="213.78" width="6.81" height="6.16" fill="#ff3b00"/><rect x="96.88" y="213.78" width="6.81" height="6.16" fill="#ff7d00"/><rect x="102.70" y="213.78" width="6.81" height="6.16" fill="#ffbf00"/><rect x="108.51" y="213.78" width="6.81" height="6.16" fill="#ff7d00"/><rect x="114.32" y="213.78" width="6.81" height="6.16" fill="#ff7d00"/><rect x="120.13" y="213.78" width="6.81" height="6.16" fill="#ff7d00"/><rect x="125.94" y="213.78" width="6.81" height="6.16" fill="#ff7d00"/><rect x="131.75" y="213.78" width="6.81" height="6.16" fill="#ffbf00"/><rect x="137.56" y="213.78" width="6.81" height="6.16" fill="#ffde00"/><rect x="143.38" y="213.78" width="6.81" height="6.16" fill="#ffde00"/><rect x="149.19" y="213.78" width="6.81" height="6.16" fill="#fffc00"/><rect x="155.00" y="213.78" width="6.81" height="6.16" fill="#80ff80"/><rect x="160.81" y="213.78" width="6.81" height="6.16" fill="#1affe5"/><rect x="166.62" y="213.78" width="6.81" height="6.16" fill="#0dfff2"/><rect x="172.43" y="213.78" width="6.81" height="6.16" fill="#66ff99"/><rect x="178.24" y="213.78" width="6.81" height="6.16" fill="#f2ff0d"/><rect x="184.05" y="213.78" width="6.81" height="6.16" fill="#ff4b00"/><rect x="189.87" y="213.78" width="6.81" height="6.16" fill="#ff3b00"/><rect x="195.68" y="213.78" width="6.81" height="6.16" fill="#ff6c00"/><rect x="201.49" y="213.78" width="6.81" height="6.16" fill="#ff7d00"/><rect x="207.30" y="213.78" width="6.81" height="6.16" fill="#ffed00"/><rect x="213.11" y="213.78" width="6.81" height="6.16" fill="#e7ff18"/><rect x="218.92" y="213.78" width="6.81" height="6.16" fill="#f2ff0d"/><rect x="224.73" y="213.78" width="6.81" height="6.16" fill="#f2ff0d"/><rect x="230.54" y="213.78" width="6.81" height="6.16" fill="#fffc00"/><rect x="236.36" y="213.78" width="6.81" height="6.16" fill="#ff9e00"/><rect x="242.17" y="213.78" width="6.81" height="6.16" fill="#ff1a00"/><rect x="247.98" y="213.78" width="6.81" height="6.16" fill="#f20000"/><rect x="253.79" y="213.78" width="6.81" height="6.16" fill="#ffaf00"/><rect x="25.65" y="218.93" width="8.31" height="6.16" fill="#001aff"/><rect x="32.96" y="218.93" width="6.81" height="6.16" fill="#0000e6"/><rect x="38.77" y="218.93" width="6.81" height="6.16" fill="#0000bf"/><rect x="44.58" y="218.93" width="6.81" height="6.16" fill="#0000cc"/><rect x="50.39" y="218.93" width="6.81" height="6.16" fill="#001aff"/><rect x="56.21" y="218.93" width="6.81" height="6.16" fill="#00d9ff"/><rect x="62.02" y="218.93" width="6.81" height="6.16" fill="#40ffbf"/><rect x="67.83" y="218.93" width="6.81" height="6.16" fill="#e7ff18"/><rect x="73.64" y="218.93" width="6.81" height="6.16" fill="#ffde00"/><rect x="79.45" y="218.93" width="6.81" height="6.16" fill="#ff6c00"/><rect x="85.26" y="218.93" width="6.81" height="6.16" fill="#ff3b00"/><rect x="91.07" y="218.93" width="6.81" height="6.16" fill="#ff1a00"/><rect x="96.88" y="218.93" width="6.81" height="6.16" fill="#ff5c00"/><rect x="102.70" y="218.93" width="6.81" height="6.16" fill="#ff8e00"/><rect x="108.51" y="218.93" width="6.81" height="6.16" fill="#ff3b00"/><rect x="114.32" y="218.93" width="6.81" height="6.16" fill="#ff3b00"/><rect x="120.13" y="218.93" width="6.81" height="6.16" fill="#ff5c00"/><rect x="125.94" y="218.93" width="6.81" height="6.16" fill="#ff9e00"/><rect x="131.75" y="218.93" width="6.81" height="6.16" fill="#ffde00"/><rect x="137.56" y="218.93" width="6.81" height="6.16" fill="#f2ff0d"/><rect x="143.38" y="218.93" width="6.81" height="6.16" fill="#f2ff0d"/><rect x="149.19" y="218.93" width="6.81" height="6.16" fill="#adff52"/><rect x="155.00" y="218.93" width="6.81" height="6.16" fill="#0dfff2"/><rect x="160.81" y="218.93" width="6.81" height="6.16" fill="#00ccff"/><rect x="166.62" y="218.93" width="6.81" height="6.16" fill="#00b2ff"/><rect x="172.43" y="218.93" width="6.81" height="6.16" fill="#00ffff"/><rect x="178.24" y="218.93" width="6.81" height="6.16" fill="#c4ff3b"/><rect x="184.05" y="218.93" width="6.81" height="6.16" fill="#ff6c00"/><rect x="189.87" y="218.93" width="6.81" height="6.16" fill="#ff6c00"/><rect x="195.68" y="218.93" width="6.81" height="6.16" fill="#ff7d00"/><rect x="201.49" y="218.93" width="6.81" height="6.16" fill="#ff9e00"/><rect x="207.30" y="218.93" width="6.81" height="6.16" fill="#fffc00"/><rect x="213.11" y="218.93" width="6.81" height="6.16" fill="#dbff24"/><rect x="218.92" y="218.93" width="6.81" height="6.16" fill="#e7ff18"/><rect x="224.73" y="218.93" width="6.81" height="6.16" fill="#f2ff0d"/><rect x="230.54" y="218.93" width="6.81" height="6.16" fill="#ffed00"/><rect x="236.36" y="218.93" width="6.81" height="6.16" fill="#ff2a00"/><rect x="242.17" y="218.93" width="6.81" height="6.16" fill="#d90000"/><rect x="247.98" y="218.93" width="6.81" height="6.16" fill="#b30000"/><rect x="253.79" y="218.93" width="6.81" height="6.16" fill="#f2ff0d"/><rect x="25.65" y="224.09" width="8.31" height="6.16" fill="#0059ff"/><rect x="32.96" y="224.09" width="6.81" height="6.16" fill="#0000ff"/><rect x="38.77" y="224.09" width="6.81" height="6.16" fill="#0000d9"/><rect x="44.58" y="224.09" width="6.81" height="6.16" fill="#0000e6"/><rect x="50.39" y="224.09" width="6.81" height="6.16" fill="#0026ff"/><rect x="56.21" y="224.09" width="6.81" height="6.16" fill="#00ffff"/><rect x="62.02" y="224.09" width="6.81" height="6.16" fill="#33ffcc"/><rect x="67.83" y="224.09" width="6.81" height="6.16" fill="#c4ff3b"/><rect x="73.64" y="224.09" width="6.81" height="6.16" fill="#f2ff0d"/><rect x="79.45" y="224.09" width="6.81" height="6.16" fill="#ff1a00"/><rect x="85.26" y="224.09" width="6.81" height="6.16" fill="#ff1a00"/><rect x="91.07" y="224.09" width="6.81" height="6.16" fill="#ff2a00"/><rect x="96.88" y="224.09" width="6.81" height="6.16" fill="#ff3b00"/><rect x="102.70" y="224.09" width="6.81" height="6.16" fill="#ff6c00"/><rect x="108.51" y="224.09" width="6.81" height="6.16" fill="#f20000"/><rect x="114.32" y="224.09" width="6.81" height="6.16" fill="#d90000"/><rect x="120.13" y="224.09" width="6.81" height="6.16" fill="#f20000"/><rect x="125.94" y="224.09" width="6.81" height="6.16" fill="#ff4b00"/><rect x="131.75" y="224.09" width="6.81" height="6.16" fill="#ffde00"/><rect x="137.56" y="224.09" width="6.81" height="6.16" fill="#dbff24"/><rect x="143.38" y="224.09" width="6.81" height="6.16" fill="#f2ff0d"/><rect x="149.19" y="224.09" width="6.81" height="6.16" fill="#96ff69"/><rect x="155.00" y="224.09" width="6.81" height="6.16" fill="#00f2ff"/><rect x="160.81" y="224.09" width="6.81" height="6.16" fill="#0099ff"/><rect x="166.62" y="224.09" width="6.81" height="6.16" fill="#0080ff"/><rect x="172.43" y="224.09" width="6.81" height="6.16" fill="#00e5ff"/><rect x="178.24" y="224.09" width="6.81" height="6.16" fill="#adff52"/><rect x="184.05" y="224.09" width="6.81" height="6.16" fill="#ffde00"/><rect x="189.87" y="224.09" width="6.81" height="6.16" fill="#ff6c00"/><rect x="195.68" y="224.09" width="6.81" height="6.16" fill="#ff4b00"/><rect x="201.49" y="224.09" width="6.81" height="6.16" fill="#ff7d00"/><rect x="207.30" y="224.09" width="6.81" height="6.16" fill="#ffde00"/><rect x="213.11" y="224.09" width="6.81" height="6.16" fill="#f2ff0d"/><rect x="218.92" y="224.09" width="6.81" height="6.16" fill="#e7ff18"/><rect x="224.73" y="224.09" width="6.81" height="6.16" fill="#f2ff0d"/><rect x="230.54" y="224.09" width="6.81" height="6.16" fill="#ffde00"/><rect x="236.36" y="224.09" width="6.81" height="6.16" fill="#ff0000"/><rect x="242.17" y="224.09" width="6.81" height="6.16" fill="#b30000"/><rect x="247.98" y="224.09" width="6.81" height="6.16" fill="#a60000"/><rect x="253.79" y="224.09" width="6.81" height="6.16" fill="#ffde00"/><rect x="25.65" y="229.24" width="8.31" height="6.16" fill="#00ffff"/><rect x="32.96" y="229.24" width="6.81" height="6.16" fill="#001aff"/><rect x="38.77" y="229.24" width="6.81" height="6.16" fill="#0000ff"/><rect x="44.58" y="229.24" width="6.81" height="6.16" fill="#000dff"/><rect x="50.39" y="229.24" width="6.81" height="6.16" fill="#0080ff"/><rect x="56.21" y="229.24" width="6.81" height="6.16" fill="#00ffff"/><rect x="62.02" y="229.24" width="6.81" height="6.16" fill="#1affe5"/><rect x="67.83" y="229.24" width="6.81" height="6.16" fill="#c4ff3b"/><rect x="73.64" y="229.24" width="6.81" height="6.16" fill="#f2ff0d"/><rect x="79.45" y="229.24" width="6.81" height="6.16" fill="#ff0000"/><rect x="85.26" y="229.24" width="6.81" height="6.16" fill="#ff0d00"/><rect x="91.07" y="229.24" width="6.81" height="6.16" fill="#ff2a00"/><rect x="96.88" y="229.24" width="6.81" height="6.16" fill="#ff4b00"/><rect x="102.70" y="229.24" width="6.81" height="6.16" fill="#ff6c00"/><rect x="108.51" y="229.24" width="6.81" height="6.16" fill="#f20000"/><rect x="114.32" y="229.24" width="6.81" height="6.16" fill="#d90000"/><rect x="120.13" y="229.24" width="6.81" height="6.16" fill="#f20000"/><rect x="125.94" y="229.24" width="6.81" height="6.16" fill="#ff1a00"/><rect x="131.75" y="229.24" width="6.81" height="6.16" fill="#ff7d00"/><rect x="137.56" y="229.24" width="6.81" height="6.16" fill="#e7ff18"/><rect x="143.38" y="229.24" width="6.81" height="6.16" fill="#f2ff0d"/><rect x="149.19" y="229.24" width="6.81" height="6.16" fill="#b9ff46"/><rect x="155.00" y="229.24" width="6.81" height="6.16" fill="#00bfff"/><rect x="160.81" y="229.24" width="6.81" height="6.16" fill="#00b2ff"/><rect x="166.62" y="229.24" width="6.81" height="6.16" fill="#0099ff"/><rect x="172.43" y="229.24" width="6.81" height="6.16" fill="#00ccff"/><rect x="178.24" y="229.24" width="6.81" height="6.16" fill="#26ffd9"/><rect x="184.05" y="229.24" width="6.81" height="6.16" fill="#adff52"/><rect x="189.87" y="229.24" width="6.81" height="6.16" fill="#ff3b00"/><rect x="195.68" y="229.24" width="6.81" height="6.16" fill="#f20000"/><rect x="201.49" y="229.24" width="6.81" height="6.16" fill="#ff0d00"/><rect x="207.30" y="229.24" width="6.81" height="6.16" fill="#ff6c00"/><rect x="213.11" y="229.24" width="6.81" height="6.16" fill="#ffcf00"/><rect x="218.92" y="229.24" width="6.81" height="6.16" fill="#f2ff0d"/><rect x="224.73" y="229.24" width="6.81" height="6.16" fill="#f2ff0d"/><rect x="230.54" y="229.24" width="6.81" height="6.16" fill="#ffde00"/><rect x="236.36" y="229.24" width="6.81" height="6.16" fill="#f20000"/><rect x="242.17" y="229.24" width="6.81" height="6.16" fill="#b30000"/><rect x="247.98" y="229.24" width="6.81" height="6.16" fill="#b30000"/><rect x="253.79" y="229.24" width="6.81" height="6.16" fill="#ff8e00"/></g>
<rect x="27.15" y="28.15" width="232.45" height="206.25" fill="none" stroke="#5a5a5a" stroke-width="0.6"/>
<path d="M53.30 234.40v-2.3M53.30 28.15v2.3M27.15 211.20h2.3M259.60 211.20h-2.3M82.36 234.40v-2.3M82.36 28.15v2.3M27.15 185.42h2.3M259.60 185.42h-2.3M111.41 234.40v-2.3M111.41 28.15v2.3M27.15 159.63h2.3M259.60 159.63h-2.3M140.47 234.40v-2.3M140.47 28.15v2.3M27.15 133.85h2.3M259.60 133.85h-2.3M169.53 234.40v-2.3M169.53 28.15v2.3M27.15 108.07h2.3M259.60 108.07h-2.3M198.58 234.40v-2.3M198.58 28.15v2.3M27.15 82.29h2.3M259.60 82.29h-2.3M227.64 234.40v-2.3M227.64 28.15v2.3M27.15 56.51h2.3M259.60 56.51h-2.3M256.69 234.40v-2.3M256.69 28.15v2.3M27.15 30.73h2.3M259.60 30.73h-2.3" stroke="#5a5a5a" stroke-width="0.6" fill="none"/>
<polyline points="47.49,41.04 93.98,41.04 93.98,71.98 111.41,71.98 111.41,118.38 146.28,149.32 152.09,149.32 192.77,185.42 204.39,185.42 227.64,206.04 245.07,206.04 245.07,231.82" fill="none" stroke="#e800d0" stroke-width="2.3" stroke-linejoin="miter"/>
<polyline points="47.49,41.04 134.66,41.04 134.66,51.35 152.09,51.35 152.09,61.67 175.34,61.67 175.34,66.82 181.15,66.82 181.15,108.07 186.96,108.07 192.77,113.23 192.77,123.54 210.20,123.54 210.20,133.85 216.02,133.85 216.02,149.32 221.83,149.32 227.64,154.48 227.64,169.95 239.26,180.26 239.26,200.88 245.07,206.04 245.07,231.82" fill="none" stroke="#000" stroke-width="2.2" stroke-linejoin="miter"/>
<circle cx="47.49" cy="41.04" r="2.4" fill="#ee0000"/>
<circle cx="245.07" cy="231.82" r="2.35" fill="none" stroke="#000" stroke-width="1.5"/>
<rect x="157.4" y="30.8" width="98.4" height="27.7" fill="#fff" stroke="#b0b0b0" stroke-width="0.6"/>
<line x1="159.9" y1="37.6" x2="183.4" y2="37.6" stroke="#e800d0" stroke-width="2.3"/>
<line x1="159.9" y1="51.3" x2="183.4" y2="51.3" stroke="#000" stroke-width="2.2"/>
<text x="185.6" y="42.4" font-family='"Liberation Serif", serif' font-size="11" fill="#000000">FIA*ACO path</text>
<text x="185.6" y="54.7" font-family='"Liberation Serif", serif' font-size="11" fill="#000000">ACO path</text>
<text x="24.4" y="215.20" text-anchor="end" font-family='"Liberation Sans", sans-serif' font-size="8.4" fill="#3c3c3c">5</text>
<text x="53.50" y="246.0" text-anchor="middle" font-family='"Liberation Sans", sans-serif' font-size="8.4" fill="#3c3c3c">5</text>
<text x="24.4" y="189.42" text-anchor="end" font-family='"Liberation Sans", sans-serif' font-size="8.4" fill="#3c3c3c">10</text>
<text x="82.56" y="246.0" text-anchor="middle" font-family='"Liberation Sans", sans-serif' font-size="8.4" fill="#3c3c3c">10</text>
<text x="24.4" y="163.63" text-anchor="end" font-family='"Liberation Sans", sans-serif' font-size="8.4" fill="#3c3c3c">15</text>
<text x="111.61" y="246.0" text-anchor="middle" font-family='"Liberation Sans", sans-serif' font-size="8.4" fill="#3c3c3c">15</text>
<text x="24.4" y="137.85" text-anchor="end" font-family='"Liberation Sans", sans-serif' font-size="8.4" fill="#3c3c3c">20</text>
<text x="140.67" y="246.0" text-anchor="middle" font-family='"Liberation Sans", sans-serif' font-size="8.4" fill="#3c3c3c">20</text>
<text x="24.4" y="112.07" text-anchor="end" font-family='"Liberation Sans", sans-serif' font-size="8.4" fill="#3c3c3c">25</text>
<text x="169.73" y="246.0" text-anchor="middle" font-family='"Liberation Sans", sans-serif' font-size="8.4" fill="#3c3c3c">25</text>
<text x="24.4" y="86.29" text-anchor="end" font-family='"Liberation Sans", sans-serif' font-size="8.4" fill="#3c3c3c">30</text>
<text x="198.78" y="246.0" text-anchor="middle" font-family='"Liberation Sans", sans-serif' font-size="8.4" fill="#3c3c3c">30</text>
<text x="24.4" y="60.51" text-anchor="end" font-family='"Liberation Sans", sans-serif' font-size="8.4" fill="#3c3c3c">35</text>
<text x="227.84" y="246.0" text-anchor="middle" font-family='"Liberation Sans", sans-serif' font-size="8.4" fill="#3c3c3c">35</text>
<text x="24.4" y="34.73" text-anchor="end" font-family='"Liberation Sans", sans-serif' font-size="8.4" fill="#3c3c3c">40</text>
<text x="256.89" y="246.0" text-anchor="middle" font-family='"Liberation Sans", sans-serif' font-size="8.4" fill="#3c3c3c">40</text>
<text x="142.4" y="258.5" text-anchor="middle" font-family='"Liberation Serif", serif' font-size="11.9" fill="#000000" stroke="#000000" stroke-width="0.4">x/m</text>
<text transform="translate(10.3,132.1) rotate(-90)" text-anchor="middle" font-family='"Liberation Serif", serif' font-size="12" fill="#000000" stroke="#000000" stroke-width="0.4">y/m</text>
<text x="139.5" y="285.5" text-anchor="middle" font-family='"Liberation Serif", serif' font-size="18.6" fill="#111">(a)</text>
<text x="207.6" y="18.1" font-family='"Liberation Serif", serif' font-size="15.1" fill="#000000">Earthwork volume/m<tspan font-size="8.7" dy="-4.1">3</tspan></text>
<defs><linearGradient id="cb" x1="0" y1="0" x2="0" y2="1"><stop offset="0.0000" stop-color="#800000"/><stop offset="0.0156" stop-color="#8f0000"/><stop offset="0.0312" stop-color="#9f0000"/><stop offset="0.0469" stop-color="#af0000"/><stop offset="0.0625" stop-color="#bf0000"/><stop offset="0.0781" stop-color="#cf0000"/><stop offset="0.0938" stop-color="#df0000"/><stop offset="0.1094" stop-color="#ef0000"/><stop offset="0.1250" stop-color="#ff0000"/><stop offset="0.1406" stop-color="#ff1000"/><stop offset="0.1562" stop-color="#ff2000"/><stop offset="0.1719" stop-color="#ff3000"/><stop offset="0.1875" stop-color="#ff4000"/><stop offset="0.2031" stop-color="#ff5000"/><stop offset="0.2188" stop-color="#ff6000"/><stop offset="0.2344" stop-color="#ff7000"/><stop offset="0.2500" stop-color="#ff8000"/><stop offset="0.2656" stop-color="#ff8f00"/><stop offset="0.2812" stop-color="#ff9f00"/><stop offset="0.2969" stop-color="#ffaf00"/><stop offset="0.3125" stop-color="#ffbf00"/><stop offset="0.3281" stop-color="#ffcf00"/><stop offset="0.3438" stop-color="#ffdf00"/><stop offset="0.3594" stop-color="#ffef00"/><stop offset="0.3750" stop-color="#ffff00"/><stop offset="0.3906" stop-color="#efff10"/><stop offset="0.4062" stop-color="#dfff20"/><stop offset="0.4219" stop-color="#cfff30"/><stop offset="0.4375" stop-color="#bfff40"/><stop offset="0.4531" stop-color="#afff50"/><stop offset="0.4688" stop-color="#9fff60"/><stop offset="0.4844" stop-color="#8fff70"/><stop offset="0.5000" stop-color="#80ff80"/><stop offset="0.5156" stop-color="#70ff8f"/><stop offset="0.5312" stop-color="#60ff9f"/><stop offset="0.5469" stop-color="#50ffaf"/><stop offset="0.5625" stop-color="#40ffbf"/><stop offset="0.5781" stop-color="#30ffcf"/><stop offset="0.5938" stop-color="#20ffdf"/><stop offset="0.6094" stop-color="#10ffef"/><stop offset="0.6250" stop-color="#00ffff"/><stop offset="0.6406" stop-color="#00efff"/><stop offset="0.6562" stop-color="#00dfff"/><stop offset="0.6719" stop-color="#00cfff"/><stop offset="0.6875" stop-color="#00bfff"/><stop offset="0.7031" stop-color="#00afff"/><stop offset="0.7188" stop-color="#009fff"/><stop offset="0.7344" stop-color="#008fff"/><stop offset="0.7500" stop-color="#0080ff"/><stop offset="0.7656" stop-color="#0070ff"/><stop offset="0.7812" stop-color="#0060ff"/><stop offset="0.7969" stop-color="#0050ff"/><stop offset="0.8125" stop-color="#0040ff"/><stop offset="0.8281" stop-color="#0030ff"/><stop offset="0.8438" stop-color="#0020ff"/><stop offset="0.8594" stop-color="#0010ff"/><stop offset="0.8750" stop-color="#0000ff"/><stop offset="0.8906" stop-color="#0000ef"/><stop offset="0.9062" stop-color="#0000df"/><stop offset="0.9219" stop-color="#0000cf"/><stop offset="0.9375" stop-color="#0000bf"/><stop offset="0.9531" stop-color="#0000af"/><stop offset="0.9688" stop-color="#00009f"/><stop offset="0.9844" stop-color="#00008f"/><stop offset="1.0000" stop-color="#000080"/></linearGradient></defs>
<rect x="267.50" y="28.10" width="12.70" height="206.30" fill="url(#cb)" stroke="#5a5a5a" stroke-width="0.5"/>
<text x="284.2" y="62.85" font-family='"Liberation Sans", sans-serif' font-size="11" fill="#3c3c3c">0.2</text>
<text x="284.2" y="102.55" font-family='"Liberation Sans", sans-serif' font-size="11" fill="#3c3c3c">0</text>
<text x="284.2" y="142.25" font-family='"Liberation Sans", sans-serif' font-size="11" fill="#3c3c3c">-0.2</text>
<text x="284.2" y="181.95" font-family='"Liberation Sans", sans-serif' font-size="11" fill="#3c3c3c">-0.4</text>
<text x="284.2" y="221.65" font-family='"Liberation Sans", sans-serif' font-size="11" fill="#3c3c3c">-0.6</text>
<path d="M280.20 57.60h-2M280.20 97.30h-2M280.20 137.00h-2M280.20 176.70h-2M280.20 216.40h-2" stroke="#5a5a5a" stroke-width="0.6"/>
<path d="M445.00 7.30V235.30M502.60 7.30V235.30M560.20 7.30V235.30M617.80 7.30V235.30M387.40 197.30H675.40M387.40 159.30H675.40M387.40 121.30H675.40M387.40 83.30H675.40M387.40 45.30H675.40" stroke="#ececec" stroke-width="0.7" fill="none"/>
<rect x="387.40" y="7.30" width="288.00" height="228.00" fill="none" stroke="#999999" stroke-width="0.9"/>
<text x="387.40" y="248.0" text-anchor="middle" font-family='"Liberation Sans", sans-serif' font-size="8.6" fill="#3c3c3c">0</text>
<text x="445.00" y="248.0" text-anchor="middle" font-family='"Liberation Sans", sans-serif' font-size="8.6" fill="#3c3c3c">20</text>
<text x="502.60" y="248.0" text-anchor="middle" font-family='"Liberation Sans", sans-serif' font-size="8.6" fill="#3c3c3c">40</text>
<text x="560.20" y="248.0" text-anchor="middle" font-family='"Liberation Sans", sans-serif' font-size="8.6" fill="#3c3c3c">60</text>
<text x="617.80" y="248.0" text-anchor="middle" font-family='"Liberation Sans", sans-serif' font-size="8.6" fill="#3c3c3c">80</text>
<text x="675.40" y="248.0" text-anchor="middle" font-family='"Liberation Sans", sans-serif' font-size="8.6" fill="#3c3c3c">100</text>
<text x="383.4" y="239.30" text-anchor="end" font-family='"Liberation Sans", sans-serif' font-size="8.6" fill="#3c3c3c">0</text>
<text x="383.4" y="201.30" text-anchor="end" font-family='"Liberation Sans", sans-serif' font-size="8.6" fill="#3c3c3c">5</text>
<text x="383.4" y="163.30" text-anchor="end" font-family='"Liberation Sans", sans-serif' font-size="8.6" fill="#3c3c3c">10</text>
<text x="383.4" y="125.30" text-anchor="end" font-family='"Liberation Sans", sans-serif' font-size="8.6" fill="#3c3c3c">15</text>
<text x="383.4" y="87.30" text-anchor="end" font-family='"Liberation Sans", sans-serif' font-size="8.6" fill="#3c3c3c">20</text>
<text x="383.4" y="49.30" text-anchor="end" font-family='"Liberation Sans", sans-serif' font-size="8.6" fill="#3c3c3c">25</text>
<text x="383.4" y="11.30" text-anchor="end" font-family='"Liberation Sans", sans-serif' font-size="8.6" fill="#3c3c3c">30</text>
<path d="M387.40 235.30v-2.8M387.40 7.30v2.8M445.00 235.30v-2.8M445.00 7.30v2.8M502.60 235.30v-2.8M502.60 7.30v2.8M560.20 235.30v-2.8M560.20 7.30v2.8M617.80 235.30v-2.8M617.80 7.30v2.8M675.40 235.30v-2.8M675.40 7.30v2.8M387.40 235.30h2.8M675.40 235.30h-2.8M387.40 197.30h2.8M675.40 197.30h-2.8M387.40 159.30h2.8M675.40 159.30h-2.8M387.40 121.30h2.8M675.40 121.30h-2.8M387.40 83.30h2.8M675.40 83.30h-2.8M387.40 45.30h2.8M675.40 45.30h-2.8M387.40 7.30h2.8M675.40 7.30h-2.8" stroke="#999999" stroke-width="0.9" fill="none"/>
<g clip-path="url(#rc)">
<polyline points="390.28,22.90 393.16,106.50 396.04,22.90 398.92,30.50 401.80,38.10 404.68,45.70 407.56,53.30 410.44,91.30 413.32,91.30 416.20,91.30 419.08,91.30 421.96,91.30 424.84,91.30 427.72,91.30 430.60,121.70 433.48,121.70 436.36,121.70 439.24,121.70 442.12,121.70 445.00,121.70 447.88,136.14 450.76,136.14 453.64,98.14 456.52,98.14 459.40,98.14 462.28,98.14 465.16,110.30 468.04,111.82 470.92,118.28 473.80,119.04 476.68,143.74 479.56,157.42 482.44,91.30 485.32,91.30 488.20,91.30 491.08,91.30 493.96,81.42 496.84,97.38 499.72,104.22 502.60,105.36 505.48,105.74 508.36,117.14 511.24,119.42 514.12,119.42 517.00,119.42 519.88,119.42 522.76,119.42 525.64,149.82 528.52,149.82 531.40,149.82 534.28,149.82 537.16,149.82 540.04,149.82 542.92,149.82 545.80,172.62 548.68,172.62 551.56,172.62 554.44,172.62 557.32,172.62 560.20,172.62 563.08,172.62 565.96,172.62 568.84,172.62 571.72,172.62 574.60,172.62 577.48,172.62 580.36,172.62 583.24,172.62 586.12,172.62 589.00,172.62 591.88,172.62 594.76,172.62 597.64,172.62 600.52,172.62 603.40,172.62 606.28,172.62 609.16,172.62 612.04,172.62 614.92,172.62 617.80,172.62 620.68,172.62 623.56,172.62 626.44,172.62 629.32,172.62 632.20,172.62 635.08,172.62 637.96,172.62 640.84,172.62 643.72,172.62 646.60,172.62 649.48,172.62 652.36,172.62 655.24,172.62 658.12,172.62 661.00,172.62 663.88,172.62 666.76,172.62 669.64,172.62 672.52,172.62 675.40,172.62" fill="none" stroke="#1414cc" stroke-width="1.3"/>
<circle cx="390.28" cy="22.90" r="1.9" fill="none" stroke="#1414cc" stroke-width="1.0"/><circle cx="393.16" cy="106.50" r="1.9" fill="none" stroke="#1414cc" stroke-width="1.0"/><circle cx="396.04" cy="22.90" r="1.9" fill="none" stroke="#1414cc" stroke-width="1.0"/><circle cx="398.92" cy="30.50" r="1.9" fill="none" stroke="#1414cc" stroke-width="1.0"/><circle cx="401.80" cy="38.10" r="1.9" fill="none" stroke="#1414cc" stroke-width="1.0"/><circle cx="404.68" cy="45.70" r="1.9" fill="none" stroke="#1414cc" stroke-width="1.0"/><circle cx="407.56" cy="53.30" r="1.9" fill="none" stroke="#1414cc" stroke-width="1.0"/><circle cx="410.44" cy="91.30" r="1.9" fill="none" stroke="#1414cc" stroke-width="1.0"/><circle cx="413.32" cy="91.30" r="1.9" fill="none" stroke="#1414cc" stroke-width="1.0"/><circle cx="416.20" cy="91.30" r="1.9" fill="none" stroke="#1414cc" stroke-width="1.0"/><circle cx="419.08" cy="91.30" r="1.9" fill="none" stroke="#1414cc" stroke-width="1.0"/><circle cx="421.96" cy="91.30" r="1.9" fill="none" stroke="#1414cc" stroke-width="1.0"/><circle cx="424.84" cy="91.30" r="1.9" fill="none" stroke="#1414cc" stroke-width="1.0"/><circle cx="427.72" cy="91.30" r="1.9" fill="none" stroke="#1414cc" stroke-width="1.0"/><circle cx="430.60" cy="121.70" r="1.9" fill="none" stroke="#1414cc" stroke-width="1.0"/><circle cx="433.48" cy="121.70" r="1.9" fill="none" stroke="#1414cc" stroke-width="1.0"/><circle cx="436.36" cy="121.70" r="1.9" fill="none" stroke="#1414cc" stroke-width="1.0"/><circle cx="439.24" cy="121.70" r="1.9" fill="none" stroke="#1414cc" stroke-width="1.0"/><circle cx="442.12" cy="121.70" r="1.9" fill="none" stroke="#1414cc" stroke-width="1.0"/><circle cx="445.00" cy="121.70" r="1.9" fill="none" stroke="#1414cc" stroke-width="1.0"/><circle cx="447.88" cy="136.14" r="1.9" fill="none" stroke="#1414cc" stroke-width="1.0"/><circle cx="450.76" cy="136.14" r="1.9" fill="none" stroke="#1414cc" stroke-width="1.0"/><circle cx="453.64" cy="98.14" r="1.9" fill="none" stroke="#1414cc" stroke-width="1.0"/><circle cx="456.52" cy="98.14" r="1.9" fill="none" stroke="#1414cc" stroke-width="1.0"/><circle cx="459.40" cy="98.14" r="1.9" fill="none" stroke="#1414cc" stroke-width="1.0"/><circle cx="462.28" cy="98.14" r="1.9" fill="none" stroke="#1414cc" stroke-width="1.0"/><circle cx="465.16" cy="110.30" r="1.9" fill="none" stroke="#1414cc" stroke-width="1.0"/><circle cx="468.04" cy="111.82" r="1.9" fill="none" stroke="#1414cc" stroke-width="1.0"/><circle cx="470.92" cy="118.28" r="1.9" fill="none" stroke="#1414cc" stroke-width="1.0"/><circle cx="473.80" cy="119.04" r="1.9" fill="none" stroke="#1414cc" stroke-width="1.0"/><circle cx="476.68" cy="143.74" r="1.9" fill="none" stroke="#1414cc" stroke-width="1.0"/><circle cx="479.56" cy="157.42" r="1.9" fill="none" stroke="#1414cc" stroke-width="1.0"/><circle cx="482.44" cy="91.30" r="1.9" fill="none" stroke="#1414cc" stroke-width="1.0"/><circle cx="485.32" cy="91.30" r="1.9" fill="none" stroke="#1414cc" stroke-width="1.0"/><circle cx="488.20" cy="91.30" r="1.9" fill="none" stroke="#1414cc" stroke-width="1.0"/><circle cx="491.08" cy="91.30" r="1.9" fill="none" stroke="#1414cc" stroke-width="1.0"/><circle cx="493.96" cy="81.42" r="1.9" fill="none" stroke="#1414cc" stroke-width="1.0"/><circle cx="496.84" cy="97.38" r="1.9" fill="none" stroke="#1414cc" stroke-width="1.0"/><circle cx="499.72" cy="104.22" r="1.9" fill="none" stroke="#1414cc" stroke-width="1.0"/><circle cx="502.60" cy="105.36" r="1.9" fill="none" stroke="#1414cc" stroke-width="1.0"/><circle cx="505.48" cy="105.74" r="1.9" fill="none" stroke="#1414cc" stroke-width="1.0"/><circle cx="508.36" cy="117.14" r="1.9" fill="none" stroke="#1414cc" stroke-width="1.0"/><circle cx="511.24" cy="119.42" r="1.9" fill="none" stroke="#1414cc" stroke-width="1.0"/><circle cx="514.12" cy="119.42" r="1.9" fill="none" stroke="#1414cc" stroke-width="1.0"/><circle cx="517.00" cy="119.42" r="1.9" fill="none" stroke="#1414cc" stroke-width="1.0"/><circle cx="519.88" cy="119.42" r="1.9" fill="none" stroke="#1414cc" stroke-width="1.0"/><circle cx="522.76" cy="119.42" r="1.9" fill="none" stroke="#1414cc" stroke-width="1.0"/><circle cx="525.64" cy="149.82" r="1.9" fill="none" stroke="#1414cc" stroke-width="1.0"/><circle cx="528.52" cy="149.82" r="1.9" fill="none" stroke="#1414cc" stroke-width="1.0"/><circle cx="531.40" cy="149.82" r="1.9" fill="none" stroke="#1414cc" stroke-width="1.0"/><circle cx="534.28" cy="149.82" r="1.9" fill="none" stroke="#1414cc" stroke-width="1.0"/><circle cx="537.16" cy="149.82" r="1.9" fill="none" stroke="#1414cc" stroke-width="1.0"/><circle cx="540.04" cy="149.82" r="1.9" fill="none" stroke="#1414cc" stroke-width="1.0"/><circle cx="542.92" cy="149.82" r="1.9" fill="none" stroke="#1414cc" stroke-width="1.0"/><circle cx="545.80" cy="172.62" r="1.9" fill="none" stroke="#1414cc" stroke-width="1.0"/><circle cx="548.68" cy="172.62" r="1.9" fill="none" stroke="#1414cc" stroke-width="1.0"/><circle cx="551.56" cy="172.62" r="1.9" fill="none" stroke="#1414cc" stroke-width="1.0"/><circle cx="554.44" cy="172.62" r="1.9" fill="none" stroke="#1414cc" stroke-width="1.0"/><circle cx="557.32" cy="172.62" r="1.9" fill="none" stroke="#1414cc" stroke-width="1.0"/><circle cx="560.20" cy="172.62" r="1.9" fill="none" stroke="#1414cc" stroke-width="1.0"/><circle cx="563.08" cy="172.62" r="1.9" fill="none" stroke="#1414cc" stroke-width="1.0"/><circle cx="565.96" cy="172.62" r="1.9" fill="none" stroke="#1414cc" stroke-width="1.0"/><circle cx="568.84" cy="172.62" r="1.9" fill="none" stroke="#1414cc" stroke-width="1.0"/><circle cx="571.72" cy="172.62" r="1.9" fill="none" stroke="#1414cc" stroke-width="1.0"/><circle cx="574.60" cy="172.62" r="1.9" fill="none" stroke="#1414cc" stroke-width="1.0"/><circle cx="577.48" cy="172.62" r="1.9" fill="none" stroke="#1414cc" stroke-width="1.0"/><circle cx="580.36" cy="172.62" r="1.9" fill="none" stroke="#1414cc" stroke-width="1.0"/><circle cx="583.24" cy="172.62" r="1.9" fill="none" stroke="#1414cc" stroke-width="1.0"/><circle cx="586.12" cy="172.62" r="1.9" fill="none" stroke="#1414cc" stroke-width="1.0"/><circle cx="589.00" cy="172.62" r="1.9" fill="none" stroke="#1414cc" stroke-width="1.0"/><circle cx="591.88" cy="172.62" r="1.9" fill="none" stroke="#1414cc" stroke-width="1.0"/><circle cx="594.76" cy="172.62" r="1.9" fill="none" stroke="#1414cc" stroke-width="1.0"/><circle cx="597.64" cy="172.62" r="1.9" fill="none" stroke="#1414cc" stroke-width="1.0"/><circle cx="600.52" cy="172.62" r="1.9" fill="none" stroke="#1414cc" stroke-width="1.0"/><circle cx="603.40" cy="172.62" r="1.9" fill="none" stroke="#1414cc" stroke-width="1.0"/><circle cx="606.28" cy="172.62" r="1.9" fill="none" stroke="#1414cc" stroke-width="1.0"/><circle cx="609.16" cy="172.62" r="1.9" fill="none" stroke="#1414cc" stroke-width="1.0"/><circle cx="612.04" cy="172.62" r="1.9" fill="none" stroke="#1414cc" stroke-width="1.0"/><circle cx="614.92" cy="172.62" r="1.9" fill="none" stroke="#1414cc" stroke-width="1.0"/><circle cx="617.80" cy="172.62" r="1.9" fill="none" stroke="#1414cc" stroke-width="1.0"/><circle cx="620.68" cy="172.62" r="1.9" fill="none" stroke="#1414cc" stroke-width="1.0"/><circle cx="623.56" cy="172.62" r="1.9" fill="none" stroke="#1414cc" stroke-width="1.0"/><circle cx="626.44" cy="172.62" r="1.9" fill="none" stroke="#1414cc" stroke-width="1.0"/><circle cx="629.32" cy="172.62" r="1.9" fill="none" stroke="#1414cc" stroke-width="1.0"/><circle cx="632.20" cy="172.62" r="1.9" fill="none" stroke="#1414cc" stroke-width="1.0"/><circle cx="635.08" cy="172.62" r="1.9" fill="none" stroke="#1414cc" stroke-width="1.0"/><circle cx="637.96" cy="172.62" r="1.9" fill="none" stroke="#1414cc" stroke-width="1.0"/><circle cx="640.84" cy="172.62" r="1.9" fill="none" stroke="#1414cc" stroke-width="1.0"/><circle cx="643.72" cy="172.62" r="1.9" fill="none" stroke="#1414cc" stroke-width="1.0"/><circle cx="646.60" cy="172.62" r="1.9" fill="none" stroke="#1414cc" stroke-width="1.0"/><circle cx="649.48" cy="172.62" r="1.9" fill="none" stroke="#1414cc" stroke-width="1.0"/><circle cx="652.36" cy="172.62" r="1.9" fill="none" stroke="#1414cc" stroke-width="1.0"/><circle cx="655.24" cy="172.62" r="1.9" fill="none" stroke="#1414cc" stroke-width="1.0"/><circle cx="658.12" cy="172.62" r="1.9" fill="none" stroke="#1414cc" stroke-width="1.0"/><circle cx="661.00" cy="172.62" r="1.9" fill="none" stroke="#1414cc" stroke-width="1.0"/><circle cx="663.88" cy="172.62" r="1.9" fill="none" stroke="#1414cc" stroke-width="1.0"/><circle cx="666.76" cy="172.62" r="1.9" fill="none" stroke="#1414cc" stroke-width="1.0"/><circle cx="669.64" cy="172.62" r="1.9" fill="none" stroke="#1414cc" stroke-width="1.0"/><circle cx="672.52" cy="172.62" r="1.9" fill="none" stroke="#1414cc" stroke-width="1.0"/><circle cx="675.40" cy="172.62" r="1.9" fill="none" stroke="#1414cc" stroke-width="1.0"/>
<polyline points="390.28,81.32 393.16,64.60 396.04,88.16 398.92,126.16 401.80,126.16 404.68,126.16 407.56,158.08 410.44,149.72 413.32,142.88 416.20,156.56 419.08,173.28 421.96,171.76 424.84,181.64 427.72,181.64 430.60,189.24 433.48,189.24 436.36,189.24 439.24,189.24 442.12,189.24 445.00,189.24 447.88,189.24 450.76,189.24 453.64,189.24 456.52,189.24 459.40,189.24 462.28,189.24 465.16,189.24 468.04,189.24 470.92,189.24 473.80,189.24 476.68,189.24 479.56,189.24 482.44,189.24 485.32,189.24 488.20,189.24 491.08,189.24 493.96,189.24 496.84,189.24 499.72,189.24 502.60,189.24 505.48,189.24 508.36,189.24 511.24,189.24 514.12,189.24 517.00,189.24 519.88,189.24 522.76,189.24 525.64,189.24 528.52,189.24 531.40,189.24 534.28,189.24 537.16,189.24 540.04,189.24 542.92,189.24 545.80,189.24 548.68,189.24 551.56,189.24 554.44,189.24 557.32,189.24 560.20,189.24 563.08,189.24 565.96,189.24 568.84,189.24 571.72,189.24 574.60,189.24 577.48,189.24 580.36,189.24 583.24,189.24 586.12,189.24 589.00,189.24 591.88,189.24 594.76,189.24 597.64,189.24 600.52,189.24 603.40,189.24 606.28,189.24 609.16,189.24 612.04,189.24 614.92,189.24 617.80,189.24 620.68,189.24 623.56,189.24 626.44,189.24 629.32,189.24 632.20,189.24 635.08,189.24 637.96,189.24 640.84,189.24 643.72,189.24 646.60,189.24 649.48,189.24 652.36,189.24 655.24,189.24 658.12,189.24 661.00,189.24 663.88,189.24 666.76,189.24 669.64,189.24 672.52,189.24 675.40,189.24" fill="none" stroke="#dd0a0a" stroke-width="1.4" stroke-dasharray="2.7,2.6"/>
<circle cx="390.28" cy="81.32" r="1.7" fill="#dd0a0a"/><circle cx="393.16" cy="64.60" r="1.7" fill="#dd0a0a"/><circle cx="396.04" cy="88.16" r="1.7" fill="#dd0a0a"/><circle cx="398.92" cy="126.16" r="1.7" fill="#dd0a0a"/><circle cx="401.80" cy="126.16" r="1.7" fill="#dd0a0a"/><circle cx="404.68" cy="126.16" r="1.7" fill="#dd0a0a"/><circle cx="407.56" cy="158.08" r="1.7" fill="#dd0a0a"/><circle cx="410.44" cy="149.72" r="1.7" fill="#dd0a0a"/><circle cx="413.32" cy="142.88" r="1.7" fill="#dd0a0a"/><circle cx="416.20" cy="156.56" r="1.7" fill="#dd0a0a"/><circle cx="419.08" cy="173.28" r="1.7" fill="#dd0a0a"/><circle cx="421.96" cy="171.76" r="1.7" fill="#dd0a0a"/><circle cx="424.84" cy="181.64" r="1.7" fill="#dd0a0a"/><circle cx="427.72" cy="181.64" r="1.7" fill="#dd0a0a"/><circle cx="430.60" cy="189.24" r="1.7" fill="#dd0a0a"/><circle cx="433.48" cy="189.24" r="1.7" fill="#dd0a0a"/><circle cx="436.36" cy="189.24" r="1.7" fill="#dd0a0a"/><circle cx="439.24" cy="189.24" r="1.7" fill="#dd0a0a"/><circle cx="442.12" cy="189.24" r="1.7" fill="#dd0a0a"/><circle cx="445.00" cy="189.24" r="1.7" fill="#dd0a0a"/><circle cx="447.88" cy="189.24" r="1.7" fill="#dd0a0a"/><circle cx="450.76" cy="189.24" r="1.7" fill="#dd0a0a"/><circle cx="453.64" cy="189.24" r="1.7" fill="#dd0a0a"/><circle cx="456.52" cy="189.24" r="1.7" fill="#dd0a0a"/><circle cx="459.40" cy="189.24" r="1.7" fill="#dd0a0a"/><circle cx="462.28" cy="189.24" r="1.7" fill="#dd0a0a"/><circle cx="465.16" cy="189.24" r="1.7" fill="#dd0a0a"/><circle cx="468.04" cy="189.24" r="1.7" fill="#dd0a0a"/><circle cx="470.92" cy="189.24" r="1.7" fill="#dd0a0a"/><circle cx="473.80" cy="189.24" r="1.7" fill="#dd0a0a"/><circle cx="476.68" cy="189.24" r="1.7" fill="#dd0a0a"/><circle cx="479.56" cy="189.24" r="1.7" fill="#dd0a0a"/><circle cx="482.44" cy="189.24" r="1.7" fill="#dd0a0a"/><circle cx="485.32" cy="189.24" r="1.7" fill="#dd0a0a"/><circle cx="488.20" cy="189.24" r="1.7" fill="#dd0a0a"/><circle cx="491.08" cy="189.24" r="1.7" fill="#dd0a0a"/><circle cx="493.96" cy="189.24" r="1.7" fill="#dd0a0a"/><circle cx="496.84" cy="189.24" r="1.7" fill="#dd0a0a"/><circle cx="499.72" cy="189.24" r="1.7" fill="#dd0a0a"/><circle cx="502.60" cy="189.24" r="1.7" fill="#dd0a0a"/><circle cx="505.48" cy="189.24" r="1.7" fill="#dd0a0a"/><circle cx="508.36" cy="189.24" r="1.7" fill="#dd0a0a"/><circle cx="511.24" cy="189.24" r="1.7" fill="#dd0a0a"/><circle cx="514.12" cy="189.24" r="1.7" fill="#dd0a0a"/><circle cx="517.00" cy="189.24" r="1.7" fill="#dd0a0a"/><circle cx="519.88" cy="189.24" r="1.7" fill="#dd0a0a"/><circle cx="522.76" cy="189.24" r="1.7" fill="#dd0a0a"/><circle cx="525.64" cy="189.24" r="1.7" fill="#dd0a0a"/><circle cx="528.52" cy="189.24" r="1.7" fill="#dd0a0a"/><circle cx="531.40" cy="189.24" r="1.7" fill="#dd0a0a"/><circle cx="534.28" cy="189.24" r="1.7" fill="#dd0a0a"/><circle cx="537.16" cy="189.24" r="1.7" fill="#dd0a0a"/><circle cx="540.04" cy="189.24" r="1.7" fill="#dd0a0a"/><circle cx="542.92" cy="189.24" r="1.7" fill="#dd0a0a"/><circle cx="545.80" cy="189.24" r="1.7" fill="#dd0a0a"/><circle cx="548.68" cy="189.24" r="1.7" fill="#dd0a0a"/><circle cx="551.56" cy="189.24" r="1.7" fill="#dd0a0a"/><circle cx="554.44" cy="189.24" r="1.7" fill="#dd0a0a"/><circle cx="557.32" cy="189.24" r="1.7" fill="#dd0a0a"/><circle cx="560.20" cy="189.24" r="1.7" fill="#dd0a0a"/><circle cx="563.08" cy="189.24" r="1.7" fill="#dd0a0a"/><circle cx="565.96" cy="189.24" r="1.7" fill="#dd0a0a"/><circle cx="568.84" cy="189.24" r="1.7" fill="#dd0a0a"/><circle cx="571.72" cy="189.24" r="1.7" fill="#dd0a0a"/><circle cx="574.60" cy="189.24" r="1.7" fill="#dd0a0a"/><circle cx="577.48" cy="189.24" r="1.7" fill="#dd0a0a"/><circle cx="580.36" cy="189.24" r="1.7" fill="#dd0a0a"/><circle cx="583.24" cy="189.24" r="1.7" fill="#dd0a0a"/><circle cx="586.12" cy="189.24" r="1.7" fill="#dd0a0a"/><circle cx="589.00" cy="189.24" r="1.7" fill="#dd0a0a"/><circle cx="591.88" cy="189.24" r="1.7" fill="#dd0a0a"/><circle cx="594.76" cy="189.24" r="1.7" fill="#dd0a0a"/><circle cx="597.64" cy="189.24" r="1.7" fill="#dd0a0a"/><circle cx="600.52" cy="189.24" r="1.7" fill="#dd0a0a"/><circle cx="603.40" cy="189.24" r="1.7" fill="#dd0a0a"/><circle cx="606.28" cy="189.24" r="1.7" fill="#dd0a0a"/><circle cx="609.16" cy="189.24" r="1.7" fill="#dd0a0a"/><circle cx="612.04" cy="189.24" r="1.7" fill="#dd0a0a"/><circle cx="614.92" cy="189.24" r="1.7" fill="#dd0a0a"/><circle cx="617.80" cy="189.24" r="1.7" fill="#dd0a0a"/><circle cx="620.68" cy="189.24" r="1.7" fill="#dd0a0a"/><circle cx="623.56" cy="189.24" r="1.7" fill="#dd0a0a"/><circle cx="626.44" cy="189.24" r="1.7" fill="#dd0a0a"/><circle cx="629.32" cy="189.24" r="1.7" fill="#dd0a0a"/><circle cx="632.20" cy="189.24" r="1.7" fill="#dd0a0a"/><circle cx="635.08" cy="189.24" r="1.7" fill="#dd0a0a"/><circle cx="637.96" cy="189.24" r="1.7" fill="#dd0a0a"/><circle cx="640.84" cy="189.24" r="1.7" fill="#dd0a0a"/><circle cx="643.72" cy="189.24" r="1.7" fill="#dd0a0a"/><circle cx="646.60" cy="189.24" r="1.7" fill="#dd0a0a"/><circle cx="649.48" cy="189.24" r="1.7" fill="#dd0a0a"/><circle cx="652.36" cy="189.24" r="1.7" fill="#dd0a0a"/><circle cx="655.24" cy="189.24" r="1.7" fill="#dd0a0a"/><circle cx="658.12" cy="189.24" r="1.7" fill="#dd0a0a"/><circle cx="661.00" cy="189.24" r="1.7" fill="#dd0a0a"/><circle cx="663.88" cy="189.24" r="1.7" fill="#dd0a0a"/><circle cx="666.76" cy="189.24" r="1.7" fill="#dd0a0a"/><circle cx="669.64" cy="189.24" r="1.7" fill="#dd0a0a"/><circle cx="672.52" cy="189.24" r="1.7" fill="#dd0a0a"/><circle cx="675.40" cy="189.24" r="1.7" fill="#dd0a0a"/>
</g>
<rect x="580.1" y="10.5" width="86.1" height="31.8" fill="#fff" stroke="#999999" stroke-width="0.7"/>
<line x1="582.9" y1="19.2" x2="609.0" y2="19.2" stroke="#dd0a0a" stroke-width="1.4" stroke-dasharray="2.7,2.6"/>
<circle cx="596.1" cy="19.2" r="1.8" fill="#dd0a0a"/>
<line x1="582.9" y1="33.8" x2="608.7" y2="33.8" stroke="#1414cc" stroke-width="1.6"/>
<circle cx="596.1" cy="33.8" r="1.75" fill="#9090f0" stroke="#1414cc" stroke-width="1.3"/>
<text x="611.5" y="24.3" font-family='"Liberation Serif", serif' font-size="12.1" fill="#000000">FIA*ACO</text>
<text x="611.5" y="38.3" font-family='"Liberation Serif", serif' font-size="12.1" fill="#000000">ACO</text>
<text x="539.05" y="262.5" text-anchor="middle" font-family='"Liberation Serif", serif' font-size="14.5" fill="#000000" stroke="#000000" stroke-width="0.45">Number of iterations</text>
<text transform="translate(368.2,124.45) rotate(-90)" text-anchor="middle" font-family='"Liberation Serif", serif' font-size="14.5" fill="#000000" stroke="#000000" stroke-width="0.45">Value of the optimized objective function</text>
<text x="538.5" y="286.4" text-anchor="middle" font-family='"Liberation Serif", serif' font-size="19" fill="#111">(b)</text>
</g>
</svg>
</body></html>
